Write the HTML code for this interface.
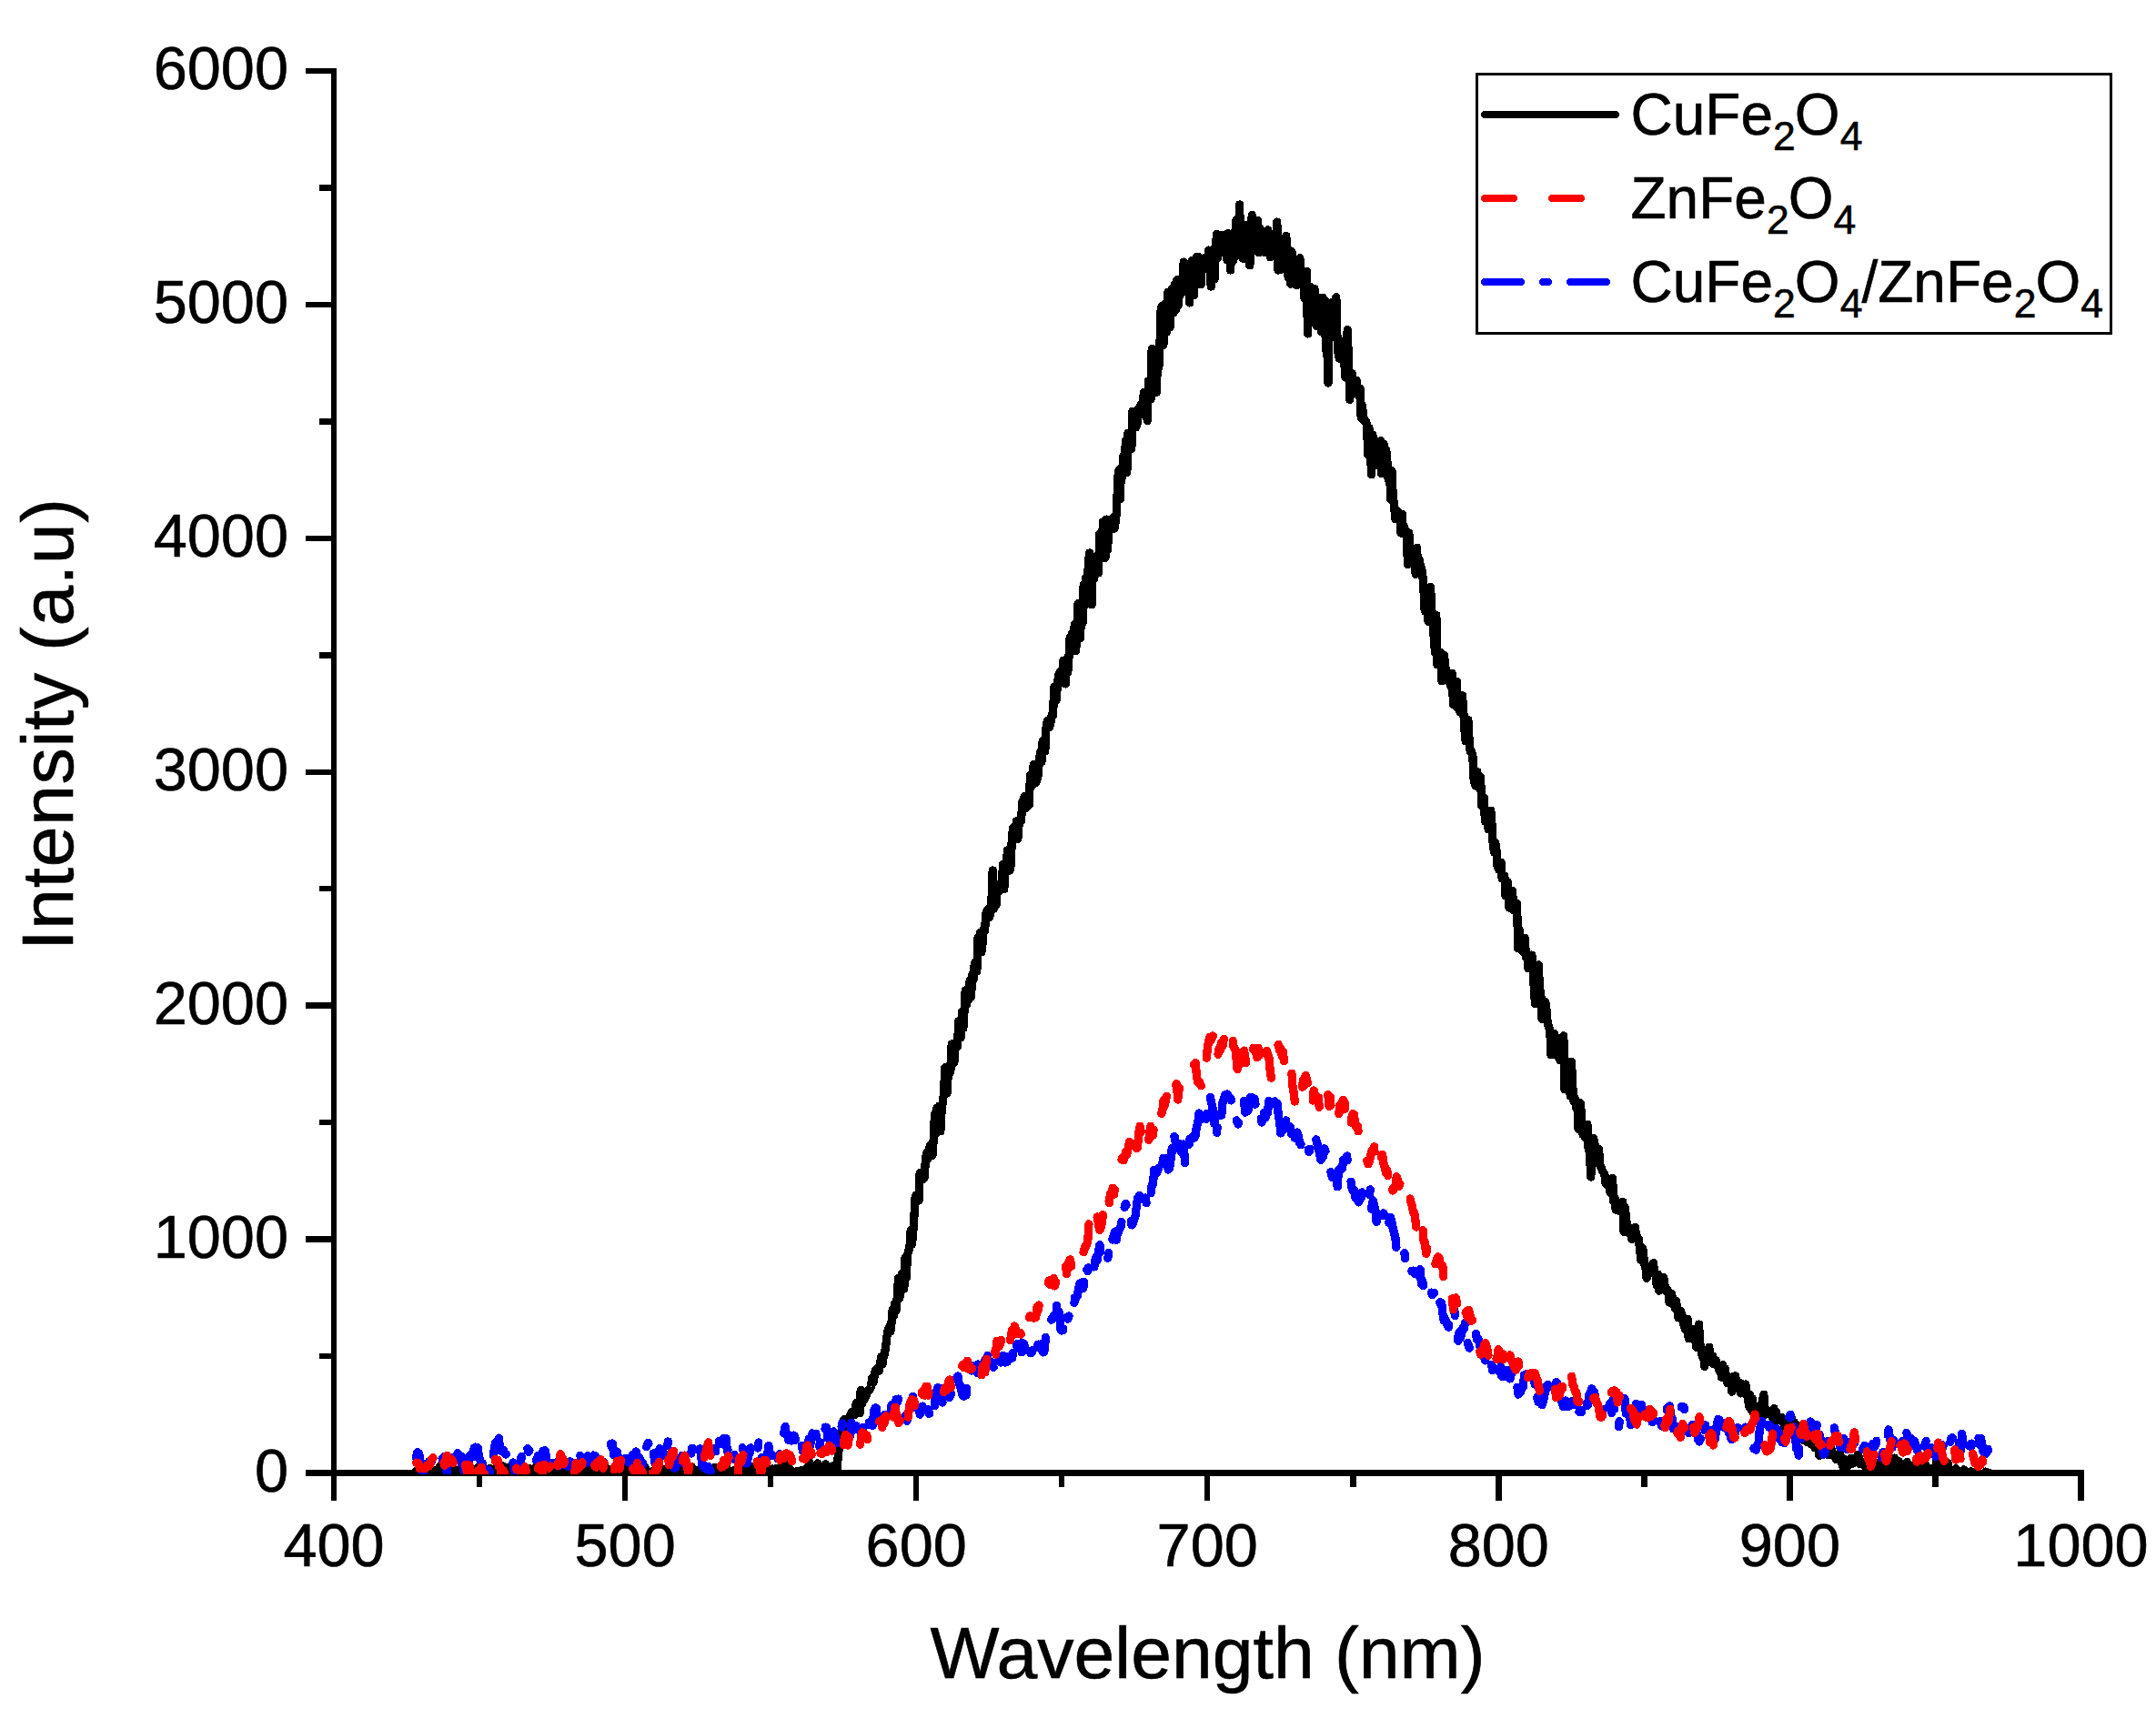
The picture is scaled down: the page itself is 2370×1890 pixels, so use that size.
<!DOCTYPE html>
<html lang="en">
<head>
<meta charset="utf-8">
<title>PL spectra: CuFe2O4, ZnFe2O4, CuFe2O4/ZnFe2O4</title>
<style>
html,body{margin:0;padding:0;background:#fff;}
body{width:2370px;height:1890px;overflow:hidden;}
svg{display:block;}
</style>
</head>
<body>
<svg width="2370" height="1890" viewBox="0 0 2370 1890">
<rect width="2370" height="1890" fill="#fff"/>
<g fill="#000" shape-rendering="crispEdges">
<rect x="364" y="75" width="6" height="1548"/>
<rect x="336" y="1616" width="1955" height="7"/>
<rect x="336" y="1616" width="31" height="7"/>
<rect x="351" y="1488" width="16" height="6"/>
<rect x="336" y="1359" width="31" height="7"/>
<rect x="351" y="1231" width="16" height="6"/>
<rect x="336" y="1102" width="31" height="7"/>
<rect x="351" y="974" width="16" height="6"/>
<rect x="336" y="846" width="31" height="6"/>
<rect x="351" y="717" width="16" height="7"/>
<rect x="336" y="589" width="31" height="6"/>
<rect x="351" y="460" width="16" height="7"/>
<rect x="336" y="332" width="31" height="6"/>
<rect x="351" y="203" width="16" height="7"/>
<rect x="336" y="75" width="31" height="6"/>
<rect x="364" y="1620" width="6" height="30"/>
<rect x="524" y="1620" width="6" height="15"/>
<rect x="684" y="1620" width="6" height="30"/>
<rect x="844" y="1620" width="6" height="15"/>
<rect x="1004" y="1620" width="6" height="30"/>
<rect x="1164" y="1620" width="6" height="15"/>
<rect x="1324" y="1620" width="6" height="30"/>
<rect x="1484" y="1620" width="7" height="15"/>
<rect x="1644" y="1620" width="7" height="30"/>
<rect x="1804" y="1620" width="7" height="15"/>
<rect x="1964" y="1620" width="7" height="30"/>
<rect x="2124" y="1620" width="7" height="15"/>
<rect x="2284" y="1620" width="7" height="30"/>
</g>
<clipPath id="pc"><rect x="367" y="60" width="1940" height="1561"/></clipPath>
<g clip-path="url(#pc)" fill="none" stroke-width="9.3" stroke-linecap="round" stroke-linejoin="round" shape-rendering="crispEdges">
<path stroke="#000" d="M457.5 1617.6L458.8 1622.2L460.0 1621.7L461.2 1615.7L462.5 1616.5L463.8 1615.7L465.0 1619.5L466.2 1617.3L467.5 1620.1L468.8 1611.1L470.0 1622.9L471.2 1617.2L472.5 1619.9L473.8 1617.0L475.0 1616.2L476.2 1619.1L477.5 1620.4L478.8 1616.8L480.0 1617.0L481.2 1619.9L482.5 1614.5L483.8 1612.3L485.0 1618.9L486.2 1615.2L487.5 1610.8L488.8 1614.7L490.0 1615.9L491.2 1613.4L492.5 1612.3L493.8 1617.6L495.0 1620.6L496.2 1616.7L497.5 1614.9L498.8 1618.8L500.0 1620.0L501.2 1616.5L502.5 1619.4L503.8 1621.1L505.0 1616.8L506.2 1614.7L507.5 1618.7L508.8 1618.4L510.0 1621.3L511.2 1613.0L512.5 1615.2L513.8 1614.6L515.0 1611.5L516.2 1617.9L517.5 1619.3L518.8 1614.9L520.0 1622.3L521.2 1620.3L522.5 1624.5L523.8 1618.9L525.0 1620.8L526.2 1612.9L527.5 1619.6L528.8 1619.6L530.0 1611.4L531.2 1618.7L532.5 1616.6L533.8 1620.2L535.0 1616.0L536.2 1617.4L537.5 1618.7L538.8 1614.5L540.0 1619.6L541.2 1617.1L542.5 1619.2L543.8 1615.7L545.0 1621.3L546.2 1619.6L547.5 1616.9L548.8 1619.7L550.0 1621.9L551.2 1623.7L552.5 1612.0L553.8 1620.6L555.0 1619.1L556.2 1617.2L557.5 1614.0L558.8 1621.9L560.0 1613.1L561.2 1619.5L562.5 1622.0L563.8 1612.0L565.0 1616.5L566.2 1613.0L567.5 1618.3L568.8 1622.7L570.0 1624.5L571.2 1611.3L572.5 1615.5L573.8 1619.9L575.0 1623.0L576.2 1619.0L577.5 1614.9L578.8 1618.5L580.0 1617.4L581.2 1616.8L582.5 1615.0L583.8 1618.8L585.0 1618.6L586.2 1617.2L587.5 1616.7L588.8 1613.0L590.0 1615.8L591.2 1621.7L592.5 1616.8L593.8 1612.5L595.0 1622.1L596.2 1619.3L597.5 1624.8L598.8 1617.7L600.0 1615.9L601.2 1612.5L602.5 1622.1L603.8 1626.4L605.0 1614.7L606.2 1615.3L607.5 1619.6L608.8 1614.6L610.0 1616.6L611.2 1616.3L612.5 1618.2L613.8 1621.3L615.0 1617.6L616.2 1620.7L617.5 1616.0L618.8 1618.6L620.0 1610.1L621.2 1612.5L622.5 1620.3L623.8 1615.5L625.0 1619.5L626.2 1619.4L627.5 1622.1L628.8 1620.3L630.0 1621.0L631.2 1617.1L632.5 1615.1L633.8 1615.0L635.0 1615.8L636.2 1613.6L637.5 1615.6L638.8 1617.2L640.0 1618.4L641.2 1616.3L642.5 1610.8L643.8 1617.2L645.0 1618.3L646.2 1621.3L647.5 1619.5L648.8 1615.3L650.0 1615.0L651.2 1624.5L652.5 1620.1L653.8 1623.8L655.0 1624.9L656.2 1614.7L657.5 1618.8L658.8 1619.1L660.0 1619.4L661.2 1619.4L662.5 1618.2L663.8 1618.1L665.0 1612.3L666.2 1616.9L667.5 1614.9L668.8 1617.9L670.0 1615.9L671.2 1619.6L672.5 1620.3L673.8 1618.6L675.0 1618.6L676.2 1617.8L677.5 1615.9L678.8 1616.9L680.0 1615.8L681.2 1618.8L682.5 1617.5L683.8 1619.5L685.0 1612.9L686.2 1620.6L687.5 1614.9L688.8 1615.0L690.0 1616.8L691.2 1615.5L692.5 1618.5L693.8 1615.5L695.0 1613.8L696.2 1614.6L697.5 1622.0L698.8 1617.7L700.0 1613.5L701.2 1612.0L702.5 1612.1L703.8 1623.7L705.0 1612.2L706.2 1619.2L707.5 1619.4L708.8 1612.5L710.0 1618.5L711.2 1621.0L712.5 1619.1L713.8 1618.4L715.0 1620.8L716.2 1618.1L717.5 1618.7L718.8 1617.1L720.0 1619.7L721.2 1614.2L722.5 1620.2L723.8 1615.7L725.0 1613.7L726.2 1618.8L727.5 1623.4L728.8 1620.8L730.0 1615.7L731.2 1619.9L732.5 1615.9L733.8 1617.1L735.0 1617.8L736.2 1609.5L737.5 1618.2L738.8 1613.9L740.0 1615.1L741.2 1612.4L742.5 1612.2L743.8 1614.2L745.0 1620.4L746.2 1623.3L747.5 1617.4L748.8 1621.3L750.0 1616.6L751.2 1610.9L752.5 1618.0L753.8 1619.0L755.0 1616.0L756.2 1618.5L757.5 1619.5L758.8 1614.5L760.0 1612.4L761.2 1616.7L762.5 1616.8L763.8 1616.3L765.0 1620.9L766.2 1623.5L767.5 1616.1L768.8 1619.9L770.0 1620.8L771.2 1620.0L772.5 1621.1L773.8 1616.2L775.0 1620.1L776.2 1624.5L777.5 1620.3L778.8 1615.4L780.0 1619.6L781.2 1621.9L782.5 1618.8L783.8 1615.5L785.0 1622.8L786.2 1613.2L787.5 1619.2L788.8 1617.4L790.0 1613.4L791.2 1621.7L792.5 1618.7L793.8 1613.5L795.0 1619.6L796.2 1616.0L797.5 1610.9L798.8 1615.1L800.0 1618.4L801.2 1619.7L802.5 1618.1L803.8 1617.7L805.0 1619.1L806.2 1616.8L807.5 1621.6L808.8 1618.0L810.0 1618.5L811.2 1619.4L812.5 1613.8L813.8 1615.0L815.0 1622.8L816.2 1618.7L817.5 1616.5L818.8 1618.7L820.0 1615.8L821.2 1618.5L822.5 1615.2L823.8 1618.5L825.0 1612.0L826.2 1622.1L827.5 1615.7L828.8 1612.0L830.0 1616.7L831.2 1616.2L832.5 1618.0L833.8 1613.5L835.0 1618.9L836.2 1630.1L837.5 1613.1L838.8 1618.7L840.0 1616.4L841.2 1618.2L842.5 1611.2L843.8 1613.5L845.0 1619.1L846.2 1617.4L847.5 1623.2L848.8 1615.1L850.0 1618.1L851.2 1627.6L852.5 1614.8L853.8 1614.4L855.0 1617.4L856.2 1617.3L857.5 1620.4L858.8 1617.9L860.0 1606.9L861.2 1618.2L862.5 1626.6L863.8 1621.9L865.0 1607.9L866.2 1617.0L867.5 1614.5L868.8 1619.7L870.0 1616.9L871.2 1624.2L872.5 1620.7L873.8 1620.6L875.0 1618.1L876.2 1617.4L877.5 1618.7L878.8 1622.0L880.0 1619.4L881.2 1616.3L882.5 1621.9L883.8 1618.2L885.0 1617.2L886.2 1614.8L887.5 1615.5L888.8 1615.3L890.0 1607.8L891.2 1621.0L892.5 1619.5L893.8 1616.8L895.0 1621.1L896.2 1619.0L897.5 1618.8L898.8 1608.9L900.0 1616.7L901.2 1619.3L902.5 1623.1L903.8 1623.9L905.0 1622.4L906.2 1613.4L907.5 1609.8L908.8 1619.4L910.0 1617.5L911.2 1620.7L912.5 1616.9L913.8 1618.1L915.0 1612.0L916.2 1618.7L917.5 1615.5L918.8 1618.2L920.0 1614.8L921.2 1601.7L922.5 1590.1L923.8 1576.3L925.0 1573.2L926.2 1568.4L927.5 1561.4L928.8 1560.3L930.0 1572.4L931.2 1561.5L932.5 1566.5L933.8 1561.9L935.0 1555.2L936.2 1552.6L937.5 1555.9L938.8 1555.0L940.0 1555.3L941.2 1542.7L942.5 1544.7L943.8 1545.8L945.0 1553.8L946.2 1528.6L947.5 1543.1L948.8 1535.2L950.0 1538.9L951.2 1531.1L952.5 1534.1L953.8 1529.3L955.0 1529.3L956.2 1527.4L957.5 1524.5L958.8 1514.8L960.0 1520.3L961.2 1512.8L962.5 1506.2L963.8 1508.5L965.0 1504.3L966.2 1507.6L967.5 1498.9L968.8 1491.6L970.0 1499.9L971.2 1491.5L972.5 1488.4L973.8 1478.9L975.0 1469.0L976.2 1462.1L977.5 1458.9L978.8 1464.0L980.0 1454.4L981.2 1439.5L982.5 1446.6L983.8 1432.8L985.0 1440.7L986.2 1426.5L987.5 1405.6L988.8 1427.3L990.0 1419.9L991.2 1400.5L992.5 1411.9L993.8 1417.0L995.0 1383.2L996.2 1404.9L997.5 1379.7L998.8 1375.2L1000.0 1370.8L1001.2 1352.8L1002.5 1368.0L1003.8 1354.0L1005.0 1336.0L1006.2 1315.5L1007.5 1313.7L1008.8 1316.1L1010.0 1319.9L1011.2 1289.3L1012.5 1294.1L1013.8 1293.4L1015.0 1296.4L1016.2 1294.5L1017.5 1273.8L1018.8 1267.1L1020.0 1274.2L1021.2 1262.9L1022.5 1259.6L1023.8 1268.6L1025.0 1270.3L1026.2 1252.7L1027.5 1224.9L1028.8 1246.3L1030.0 1218.2L1031.2 1231.0L1032.5 1216.0L1033.8 1243.9L1035.0 1222.6L1036.2 1211.7L1037.5 1202.7L1038.8 1173.9L1040.0 1199.1L1041.2 1201.8L1042.5 1172.2L1043.8 1180.4L1045.0 1175.6L1046.2 1148.0L1047.5 1168.5L1048.8 1168.4L1050.0 1152.9L1051.2 1145.9L1052.5 1150.5L1053.8 1122.6L1055.0 1135.1L1056.2 1140.6L1057.5 1112.2L1058.8 1130.6L1060.0 1111.2L1061.2 1088.9L1062.5 1104.6L1063.8 1090.4L1065.0 1098.8L1066.2 1077.8L1067.5 1096.0L1068.8 1071.3L1070.0 1077.0L1071.2 1060.7L1072.5 1057.6L1073.8 1068.0L1075.0 1030.7L1076.2 1039.5L1077.5 1025.1L1078.8 1046.9L1080.0 1037.7L1081.2 1021.6L1082.5 1023.6L1083.8 1005.4L1085.0 1001.5L1086.2 999.6L1087.5 1008.9L1088.8 1004.5L1090.0 989.1L1091.2 957.0L1092.5 999.0L1093.8 988.6L1095.0 995.1L1096.2 976.9L1097.5 975.8L1098.8 979.3L1100.0 970.5L1101.2 976.8L1102.5 950.2L1103.8 977.6L1105.0 948.9L1106.2 952.5L1107.5 934.7L1108.8 953.6L1110.0 957.1L1111.2 950.2L1112.5 917.9L1113.8 910.0L1115.0 914.1L1116.2 913.0L1117.5 902.8L1118.8 922.5L1120.0 907.2L1121.2 900.7L1122.5 902.9L1123.8 882.2L1125.0 879.1L1126.2 875.8L1127.5 888.8L1128.8 883.5L1130.0 882.9L1131.2 885.4L1132.5 852.5L1133.8 858.3L1135.0 863.0L1136.2 840.8L1137.5 846.4L1138.8 860.7L1140.0 857.2L1141.2 852.1L1142.5 834.5L1143.8 826.4L1145.0 837.3L1146.2 814.5L1147.5 818.4L1148.8 825.8L1150.0 800.2L1151.2 792.8L1152.5 795.9L1153.8 799.3L1155.0 793.7L1156.2 785.6L1157.5 786.6L1158.8 755.4L1160.0 760.6L1161.2 769.4L1162.5 751.3L1163.8 741.7L1165.0 738.9L1166.2 737.8L1167.5 742.2L1168.8 726.4L1170.0 737.6L1171.2 751.9L1172.5 724.2L1173.8 738.8L1175.0 722.5L1176.2 700.9L1177.5 708.7L1178.8 696.0L1180.0 715.3L1181.2 686.8L1182.5 715.3L1183.8 701.7L1185.0 663.6L1186.2 695.9L1187.5 701.4L1188.8 666.0L1190.0 684.6L1191.2 643.1L1192.5 665.3L1193.8 635.1L1195.0 658.7L1196.2 623.9L1197.5 608.0L1198.8 643.9L1200.0 664.7L1201.2 621.6L1202.5 636.2L1203.8 622.1L1205.0 611.9L1206.2 620.3L1207.5 630.0L1208.8 587.1L1210.0 607.6L1211.2 601.1L1212.5 573.8L1213.8 611.9L1215.0 613.5L1216.2 571.1L1217.5 604.8L1218.8 578.9L1220.0 572.8L1221.2 573.9L1222.5 571.4L1223.8 568.9L1225.0 581.1L1226.2 573.2L1227.5 562.5L1228.8 525.3L1230.0 517.2L1231.2 548.8L1232.5 514.7L1233.8 523.8L1235.0 500.5L1236.2 506.5L1237.5 484.8L1238.8 519.4L1240.0 476.2L1241.2 483.4L1242.5 477.7L1243.8 493.3L1245.0 452.2L1246.2 468.3L1247.5 462.5L1248.8 469.8L1250.0 466.0L1251.2 449.7L1252.5 456.8L1253.8 445.1L1255.0 454.2L1256.2 442.8L1257.5 431.6L1258.8 437.0L1260.0 438.9L1261.2 462.4L1262.5 418.8L1263.8 426.2L1265.0 438.8L1266.2 383.4L1267.5 383.8L1268.8 387.5L1270.0 398.6L1271.2 431.2L1272.5 396.9L1273.8 404.1L1275.0 378.1L1276.2 339.8L1277.5 336.2L1278.8 379.3L1280.0 361.4L1281.2 334.2L1282.5 364.9L1283.8 321.4L1285.0 357.5L1286.2 359.5L1287.5 324.1L1288.8 316.8L1290.0 343.6L1291.2 312.9L1292.5 340.2L1293.8 307.9L1295.0 336.0L1296.2 323.9L1297.5 314.5L1298.8 306.1L1300.0 321.4L1301.2 288.1L1302.5 310.5L1303.8 307.0L1305.0 321.3L1306.2 290.5L1307.5 333.0L1308.8 300.9L1310.0 286.6L1311.2 322.5L1312.5 324.8L1313.8 295.2L1315.0 282.8L1316.2 294.6L1317.5 282.3L1318.8 286.3L1320.0 312.8L1321.2 293.8L1322.5 288.7L1323.8 290.5L1325.0 283.2L1326.2 295.6L1327.5 295.0L1328.8 275.1L1330.0 281.2L1331.2 315.0L1332.5 283.9L1333.8 273.8L1335.0 306.6L1336.2 274.9L1337.5 257.3L1338.8 283.3L1340.0 258.7L1341.2 264.1L1342.5 275.9L1343.8 268.4L1345.0 258.2L1346.2 260.8L1347.5 259.5L1348.8 285.6L1350.0 256.4L1351.2 258.1L1352.5 297.0L1353.8 257.3L1355.0 287.7L1356.2 284.6L1357.5 261.9L1358.8 242.4L1360.0 270.4L1361.2 273.5L1362.5 225.0L1363.8 264.1L1365.0 281.3L1366.2 284.1L1367.5 247.1L1368.8 284.8L1370.0 265.8L1371.2 254.7L1372.5 258.5L1373.8 291.9L1375.0 278.5L1376.2 236.6L1377.5 265.2L1378.8 261.9L1380.0 261.6L1381.2 256.6L1382.5 242.5L1383.8 277.8L1385.0 250.8L1386.2 259.6L1387.5 256.3L1388.8 254.7L1390.0 277.3L1391.2 272.2L1392.5 256.6L1393.8 252.9L1395.0 260.6L1396.2 282.8L1397.5 270.6L1398.8 272.8L1400.0 264.9L1401.2 266.6L1402.5 274.5L1403.8 244.1L1405.0 297.0L1406.2 261.6L1407.5 266.0L1408.8 296.1L1410.0 280.8L1411.2 279.7L1412.5 272.2L1413.8 259.4L1415.0 287.8L1416.2 305.2L1417.5 275.8L1418.8 312.1L1420.0 276.9L1421.2 285.0L1422.5 305.8L1423.8 300.6L1425.0 313.6L1426.2 294.9L1427.5 293.4L1428.8 283.8L1430.0 296.7L1431.2 301.5L1432.5 299.1L1433.8 327.6L1435.0 315.7L1436.2 298.4L1437.5 367.0L1438.8 319.5L1440.0 315.0L1441.2 353.6L1442.5 353.9L1443.8 320.9L1445.0 317.4L1446.2 325.7L1447.5 358.4L1448.8 338.3L1450.0 332.1L1451.2 344.9L1452.5 364.4L1453.8 327.4L1455.0 343.7L1456.2 330.5L1457.5 384.6L1458.8 381.2L1460.0 421.0L1461.2 356.7L1462.5 370.8L1463.8 332.8L1465.0 370.5L1466.2 349.7L1467.5 352.8L1468.8 326.8L1470.0 373.0L1471.2 389.5L1472.5 394.3L1473.8 390.7L1475.0 375.9L1476.2 376.1L1477.5 393.2L1478.8 414.8L1480.0 386.9L1481.2 362.8L1482.5 398.6L1483.8 439.3L1485.0 417.6L1486.2 410.8L1487.5 429.3L1488.8 426.7L1490.0 429.1L1491.2 418.3L1492.5 430.1L1493.8 435.5L1495.0 427.1L1496.2 459.0L1497.5 446.1L1498.8 461.9L1500.0 461.2L1501.2 462.9L1502.5 466.8L1503.8 500.0L1505.0 470.6L1506.2 485.2L1507.5 521.8L1508.8 478.1L1510.0 484.5L1511.2 498.9L1512.5 511.4L1513.8 495.5L1515.0 499.7L1516.2 499.4L1517.5 484.7L1518.8 520.8L1520.0 505.1L1521.2 488.2L1522.5 513.8L1523.8 495.3L1525.0 509.0L1526.2 527.0L1527.5 517.7L1528.8 549.1L1530.0 517.9L1531.2 545.9L1532.5 554.0L1533.8 570.6L1535.0 567.2L1536.2 561.8L1537.5 563.7L1538.8 565.8L1540.0 586.0L1541.2 565.2L1542.5 584.9L1543.8 580.0L1545.0 588.0L1546.2 584.6L1547.5 620.6L1548.8 586.2L1550.0 602.0L1551.2 605.9L1552.5 614.1L1553.8 615.8L1555.0 619.5L1556.2 631.2L1557.5 602.2L1558.8 627.1L1560.0 615.0L1561.2 621.0L1562.5 624.8L1563.8 632.2L1565.0 648.4L1566.2 671.8L1567.5 664.9L1568.8 665.1L1570.0 683.5L1571.2 656.4L1572.5 645.3L1573.8 671.2L1575.0 677.2L1576.2 701.1L1577.5 717.3L1578.8 676.5L1580.0 730.7L1581.2 723.5L1582.5 718.9L1583.8 717.5L1585.0 748.8L1586.2 723.2L1587.5 720.6L1588.8 732.8L1590.0 747.3L1591.2 745.1L1592.5 741.5L1593.8 750.9L1595.0 754.9L1596.2 740.6L1597.5 774.4L1598.8 748.6L1600.0 776.5L1601.2 749.2L1602.5 778.1L1603.8 767.5L1605.0 782.9L1606.2 779.0L1607.5 764.8L1608.8 783.1L1610.0 802.9L1611.2 814.9L1612.5 794.1L1613.8 791.3L1615.0 812.3L1616.2 826.0L1617.5 826.4L1618.8 829.8L1620.0 855.5L1621.2 862.1L1622.5 864.2L1623.8 848.4L1625.0 864.9L1626.2 865.7L1627.5 854.7L1628.8 886.1L1630.0 880.2L1631.2 876.9L1632.5 903.2L1633.8 899.0L1635.0 903.9L1636.2 911.9L1637.5 910.3L1638.8 891.3L1640.0 906.4L1641.2 927.7L1642.5 937.1L1643.8 926.4L1645.0 935.7L1646.2 952.9L1647.5 956.1L1648.8 956.2L1650.0 948.4L1651.2 965.9L1652.5 966.1L1653.8 962.9L1655.0 984.9L1656.2 979.7L1657.5 970.1L1658.8 997.6L1660.0 984.9L1661.2 999.0L1662.5 979.6L1663.8 1001.0L1665.0 995.1L1666.2 999.2L1667.5 993.3L1668.8 1042.7L1670.0 1021.7L1671.2 1030.5L1672.5 1044.7L1673.8 1035.8L1675.0 1047.4L1676.2 1031.5L1677.5 1052.9L1678.8 1050.6L1680.0 1064.6L1681.2 1064.9L1682.5 1051.7L1683.8 1050.1L1685.0 1062.4L1686.2 1084.4L1687.5 1103.8L1688.8 1087.1L1690.0 1064.6L1691.2 1060.9L1692.5 1086.2L1693.8 1093.0L1695.0 1120.5L1696.2 1108.3L1697.5 1107.4L1698.8 1101.7L1700.0 1109.8L1701.2 1125.2L1702.5 1129.1L1703.8 1132.0L1705.0 1159.9L1706.2 1137.5L1707.5 1144.8L1708.8 1136.7L1710.0 1146.3L1711.2 1158.3L1712.5 1161.7L1713.8 1157.3L1715.0 1165.9L1716.2 1165.6L1717.5 1149.5L1718.8 1138.9L1720.0 1197.9L1721.2 1186.4L1722.5 1180.9L1723.8 1167.7L1725.0 1175.6L1726.2 1205.0L1727.5 1167.8L1728.8 1195.5L1730.0 1210.8L1731.2 1207.6L1732.5 1217.5L1733.8 1212.9L1735.0 1241.3L1736.2 1212.5L1737.5 1213.4L1738.8 1232.9L1740.0 1247.6L1741.2 1237.1L1742.5 1250.8L1743.8 1239.2L1745.0 1236.2L1746.2 1263.4L1747.5 1267.9L1748.8 1294.0L1750.0 1255.0L1751.2 1251.2L1752.5 1254.0L1753.8 1265.6L1755.0 1275.9L1756.2 1278.1L1757.5 1263.4L1758.8 1281.4L1760.0 1282.9L1761.2 1286.8L1762.5 1289.0L1763.8 1290.7L1765.0 1301.0L1766.2 1300.0L1767.5 1304.0L1768.8 1298.9L1770.0 1311.5L1771.2 1309.8L1772.5 1295.2L1773.8 1320.8L1775.0 1317.0L1776.2 1330.1L1777.5 1323.3L1778.8 1326.5L1780.0 1331.6L1781.2 1332.1L1782.5 1330.7L1783.8 1321.4L1785.0 1354.5L1786.2 1327.3L1787.5 1339.7L1788.8 1349.9L1790.0 1349.4L1791.2 1352.8L1792.5 1356.3L1793.8 1362.4L1795.0 1356.2L1796.2 1358.9L1797.5 1349.6L1798.8 1362.4L1800.0 1360.3L1801.2 1362.0L1802.5 1372.3L1803.8 1385.5L1805.0 1371.4L1806.2 1375.0L1807.5 1390.0L1808.8 1391.5L1810.0 1405.4L1811.2 1400.1L1812.5 1395.5L1813.8 1392.7L1815.0 1398.6L1816.2 1396.8L1817.5 1388.7L1818.8 1400.8L1820.0 1400.6L1821.2 1413.0L1822.5 1401.1L1823.8 1419.1L1825.0 1412.8L1826.2 1416.2L1827.5 1406.0L1828.8 1404.8L1830.0 1412.8L1831.2 1419.2L1832.5 1417.1L1833.8 1420.8L1835.0 1432.1L1836.2 1429.7L1837.5 1422.5L1838.8 1429.2L1840.0 1429.9L1841.2 1438.4L1842.5 1430.6L1843.8 1440.1L1845.0 1448.7L1846.2 1445.9L1847.5 1441.1L1848.8 1445.3L1850.0 1452.8L1851.2 1457.4L1852.5 1461.9L1853.8 1456.8L1855.0 1450.3L1856.2 1471.8L1857.5 1465.6L1858.8 1468.2L1860.0 1469.4L1861.2 1461.7L1862.5 1468.5L1863.8 1474.4L1865.0 1481.5L1866.2 1476.4L1867.5 1456.0L1868.8 1477.6L1870.0 1483.3L1871.2 1491.4L1872.5 1488.9L1873.8 1502.4L1875.0 1496.5L1876.2 1497.2L1877.5 1495.7L1878.8 1481.2L1880.0 1497.4L1881.2 1497.0L1882.5 1490.8L1883.8 1499.6L1885.0 1499.9L1886.2 1495.7L1887.5 1499.9L1888.8 1501.4L1890.0 1507.2L1891.2 1505.6L1892.5 1514.3L1893.8 1500.5L1895.0 1512.5L1896.2 1504.7L1897.5 1513.4L1898.8 1520.6L1900.0 1518.3L1901.2 1518.2L1902.5 1520.0L1903.8 1530.1L1905.0 1513.9L1906.2 1527.1L1907.5 1512.8L1908.8 1520.1L1910.0 1524.9L1911.2 1519.6L1912.5 1527.3L1913.8 1531.9L1915.0 1521.6L1916.2 1530.1L1917.5 1529.9L1918.8 1522.1L1920.0 1534.3L1921.2 1532.0L1922.5 1546.0L1923.8 1533.8L1925.0 1550.1L1926.2 1537.7L1927.5 1553.2L1928.8 1545.7L1930.0 1545.9L1931.2 1548.7L1932.5 1550.0L1933.8 1553.6L1935.0 1556.3L1936.2 1545.0L1937.5 1540.6L1938.8 1533.2L1940.0 1547.4L1941.2 1555.0L1942.5 1553.8L1943.8 1553.4L1945.0 1551.9L1946.2 1551.4L1947.5 1554.5L1948.8 1559.4L1950.0 1548.5L1951.2 1563.5L1952.5 1552.4L1953.8 1560.6L1955.0 1558.9L1956.2 1561.2L1957.5 1558.3L1958.8 1558.4L1960.0 1564.2L1961.2 1560.2L1962.5 1580.0L1963.8 1565.1L1965.0 1564.4L1966.2 1565.6L1967.5 1563.4L1968.8 1556.7L1970.0 1569.1L1971.2 1572.8L1972.5 1564.0L1973.8 1572.7L1975.0 1567.2L1976.2 1574.2L1977.5 1577.2L1978.8 1578.7L1980.0 1579.4L1981.2 1574.5L1982.5 1583.5L1983.8 1577.7L1985.0 1582.7L1986.2 1585.4L1987.5 1581.2L1988.8 1577.2L1990.0 1587.5L1991.2 1579.7L1992.5 1581.6L1993.8 1581.4L1995.0 1591.7L1996.2 1587.6L1997.5 1578.3L1998.8 1593.4L2000.0 1600.5L2001.2 1599.9L2002.5 1589.3L2003.8 1593.1L2005.0 1595.8L2006.2 1598.3L2007.5 1594.9L2008.8 1590.4L2010.0 1599.7L2011.2 1599.7L2012.5 1591.6L2013.8 1596.7L2015.0 1600.2L2016.2 1599.7L2017.5 1602.7L2018.8 1604.6L2020.0 1604.1L2021.2 1601.8L2022.5 1597.0L2023.8 1606.1L2025.0 1609.9L2026.2 1612.8L2027.5 1604.6L2028.8 1604.9L2030.0 1611.5L2031.2 1611.8L2032.5 1607.4L2033.8 1609.3L2035.0 1603.3L2036.2 1609.2L2037.5 1603.6L2038.8 1606.7L2040.0 1607.0L2041.2 1605.8L2042.5 1599.2L2043.8 1604.7L2045.0 1609.7L2046.2 1608.3L2047.5 1607.1L2048.8 1610.6L2050.0 1611.9L2051.2 1612.7L2052.5 1606.2L2053.8 1609.7L2055.0 1608.4L2056.2 1606.4L2057.5 1604.1L2058.8 1609.9L2060.0 1607.0L2061.2 1619.2L2062.5 1610.5L2063.8 1610.1L2065.0 1609.6L2066.2 1618.7L2067.5 1607.8L2068.8 1611.0L2070.0 1608.8L2071.2 1611.5L2072.5 1612.0L2073.8 1616.5L2075.0 1606.9L2076.2 1612.5L2077.5 1618.9L2078.8 1610.9L2080.0 1612.3L2081.2 1609.7L2082.5 1603.1L2083.8 1612.9L2085.0 1617.9L2086.2 1611.7L2087.5 1606.6L2088.8 1614.7L2090.0 1614.1L2091.2 1617.6L2092.5 1617.4L2093.8 1613.0L2095.0 1615.6L2096.2 1607.4L2097.5 1618.4L2098.8 1615.0L2100.0 1618.5L2101.2 1618.5L2102.5 1613.5L2103.8 1614.1L2105.0 1611.5L2106.2 1607.2L2107.5 1614.4L2108.8 1615.6L2110.0 1611.1L2111.2 1617.8L2112.5 1615.7L2113.8 1617.0L2115.0 1612.7L2116.2 1609.2L2117.5 1618.5L2118.8 1618.0L2120.0 1615.5L2121.2 1614.5L2122.5 1615.2L2123.8 1615.9L2125.0 1614.7L2126.2 1617.9L2127.5 1619.6L2128.8 1604.9L2130.0 1616.0L2131.2 1616.3L2132.5 1618.5L2133.8 1612.2L2135.0 1622.0L2136.2 1620.3L2137.5 1620.9L2138.8 1622.7L2140.0 1616.1L2141.2 1608.7L2142.5 1620.1L2143.8 1623.4L2145.0 1623.0L2146.2 1617.9L2147.5 1619.4L2148.8 1620.7L2150.0 1614.6L2151.2 1618.1L2152.5 1618.3L2153.8 1625.1L2155.0 1618.5L2156.2 1625.3L2157.5 1620.8L2158.8 1615.8L2160.0 1627.6L2161.2 1618.2L2162.5 1623.1L2163.8 1626.5L2165.0 1619.9L2166.2 1617.9L2167.5 1624.8L2168.8 1622.0L2170.0 1618.2L2171.2 1618.8L2172.5 1621.0L2173.8 1625.1L2175.0 1621.5L2176.2 1624.4L2177.5 1627.5L2178.8 1626.5L2180.0 1627.1L2181.2 1626.5L2182.5 1618.1L2183.8 1626.7L2185.0 1624.1L2186.2 1622.8L2187.5 1620.0"/>
<path stroke="#00f" stroke-dasharray="40 24 6 24" d="M457.5 1602.7L458.8 1596.7L460.1 1597.6L461.4 1601.0L462.7 1612.4L464.0 1612.2L465.3 1624.3L466.6 1615.7L467.9 1608.8L469.2 1613.7L470.5 1609.8L471.8 1606.5L473.1 1607.6L474.4 1606.5L475.7 1603.0L477.0 1601.8L478.3 1599.5L479.6 1601.9L480.9 1597.7L482.2 1597.0L483.5 1596.3L484.8 1598.6L486.1 1603.2L487.4 1607.7L488.7 1601.3L490.0 1613.7L491.3 1618.8L492.6 1600.7L493.9 1607.7L495.2 1611.1L496.5 1602.4L497.8 1610.9L499.1 1614.1L500.4 1617.3L501.7 1609.6L503.0 1597.8L504.3 1606.1L505.6 1605.1L506.9 1601.0L508.2 1601.8L509.5 1616.3L510.8 1615.6L512.1 1606.9L513.4 1613.0L514.7 1613.7L516.0 1604.3L517.3 1596.4L518.6 1609.3L519.9 1601.6L521.2 1592.2L522.5 1591.1L523.8 1593.8L525.1 1591.6L526.4 1601.7L527.7 1604.7L529.0 1609.3L530.3 1608.8L531.6 1615.0L532.9 1607.8L534.2 1605.9L535.5 1611.3L536.8 1612.0L538.1 1620.3L539.4 1613.5L540.7 1616.5L542.0 1607.5L543.3 1592.6L544.6 1585.9L545.9 1588.6L547.2 1585.2L548.5 1581.1L549.8 1599.6L551.1 1601.3L552.4 1589.2L553.7 1595.7L555.0 1598.1L556.3 1598.9L557.6 1597.6L558.9 1596.7L560.2 1601.0L561.5 1602.2L562.8 1598.0L564.1 1608.7L565.4 1615.9L566.7 1618.7L568.0 1614.6L569.3 1619.1L570.6 1617.0L571.9 1607.5L573.2 1601.4L574.5 1605.6L575.8 1597.3L577.1 1589.2L578.4 1590.2L579.7 1591.7L581.0 1596.4L582.3 1593.7L583.6 1597.1L584.9 1601.9L586.2 1600.4L587.5 1596.9L588.8 1603.5L590.1 1606.4L591.4 1600.4L592.7 1606.3L594.0 1606.0L595.3 1602.9L596.6 1595.6L597.9 1595.0L599.2 1594.8L600.5 1601.6L601.8 1609.7L603.1 1616.9L604.4 1620.9L605.7 1610.2L607.0 1610.9L608.3 1608.3L609.6 1611.1L610.9 1606.9L612.2 1611.0L613.5 1617.5L614.8 1604.6L616.1 1602.1L617.4 1604.8L618.7 1609.7L620.0 1609.9L621.3 1610.3L622.6 1611.2L623.9 1612.2L625.2 1611.1L626.5 1607.0L627.8 1607.3L629.1 1612.4L630.4 1610.6L631.7 1612.2L633.0 1607.1L634.3 1601.1L635.6 1603.1L636.9 1597.3L638.2 1601.7L639.5 1610.6L640.8 1606.7L642.1 1608.0L643.4 1614.6L644.7 1613.7L646.0 1600.8L647.3 1607.8L648.6 1605.5L649.9 1602.6L651.2 1607.5L652.5 1600.0L653.8 1603.7L655.1 1597.4L656.4 1602.6L657.7 1600.3L659.0 1608.6L660.3 1608.9L661.6 1609.0L662.9 1611.6L664.2 1601.4L665.5 1599.7L666.8 1596.8L668.1 1591.5L669.4 1589.3L670.7 1586.1L672.0 1589.6L673.3 1587.0L674.6 1599.5L675.9 1594.9L677.2 1598.4L678.5 1596.6L679.8 1607.9L681.1 1610.5L682.4 1611.7L683.7 1608.3L685.0 1609.5L686.3 1604.8L687.6 1599.5L688.9 1606.2L690.2 1606.8L691.5 1608.9L692.8 1595.6L694.1 1604.1L695.4 1599.3L696.7 1602.9L698.0 1599.6L699.3 1596.0L700.6 1601.7L701.9 1602.2L703.2 1603.1L704.5 1612.9L705.8 1613.1L707.1 1601.2L708.4 1604.1L709.7 1593.2L711.0 1589.9L712.3 1586.2L713.6 1588.4L714.9 1584.2L716.2 1594.2L717.5 1592.1L718.8 1600.1L720.1 1608.9L721.4 1600.7L722.7 1601.4L724.0 1594.9L725.3 1592.6L726.6 1593.7L727.9 1594.2L729.2 1596.5L730.5 1606.9L731.8 1601.2L733.1 1593.6L734.4 1585.0L735.7 1588.9L737.0 1591.7L738.3 1597.6L739.6 1604.2L740.9 1614.0L742.2 1614.0L743.5 1609.9L744.8 1607.3L746.1 1603.3L747.4 1604.9L748.7 1606.3L750.0 1600.2L751.3 1603.6L752.6 1605.0L753.9 1611.2L755.2 1604.3L756.5 1609.5L757.8 1603.2L759.1 1602.0L760.4 1594.6L761.7 1585.9L763.0 1589.1L764.3 1588.3L765.6 1585.4L766.9 1589.5L768.2 1594.5L769.5 1592.9L770.8 1602.0L772.1 1612.0L773.4 1610.0L774.7 1614.2L776.0 1615.3L777.3 1614.7L778.6 1612.4L779.9 1615.3L781.2 1617.7L782.5 1617.2L783.8 1607.1L785.1 1602.6L786.4 1592.3L787.7 1602.6L789.0 1597.3L790.3 1584.7L791.6 1587.4L792.9 1584.7L794.2 1582.7L795.5 1581.4L796.8 1587.9L798.1 1581.7L799.4 1595.7L800.7 1592.6L802.0 1596.6L803.3 1596.2L804.6 1604.5L805.9 1606.2L807.2 1599.6L808.5 1606.7L809.8 1607.8L811.1 1599.2L812.4 1592.6L813.7 1592.2L815.0 1590.5L816.3 1591.9L817.6 1596.8L818.9 1605.1L820.2 1608.9L821.5 1608.6L822.8 1596.2L824.1 1597.7L825.4 1592.0L826.7 1594.7L828.0 1598.2L829.3 1595.8L830.6 1593.1L831.9 1598.6L833.2 1589.9L834.5 1582.3L835.8 1591.0L837.1 1601.5L838.4 1604.1L839.7 1604.5L841.0 1607.4L842.3 1605.8L843.6 1600.5L844.9 1589.5L846.2 1600.1L847.5 1599.9L848.8 1599.4L850.1 1604.8L851.4 1609.4L852.7 1599.4L854.0 1601.5L855.3 1604.0L856.6 1599.3L857.9 1598.2L859.2 1590.2L860.5 1576.7L861.8 1575.7L863.1 1568.4L864.4 1576.0L865.7 1579.1L867.0 1583.5L868.3 1582.6L869.6 1584.0L870.9 1583.9L872.2 1578.1L873.5 1578.9L874.8 1584.6L876.1 1588.1L877.4 1585.9L878.7 1591.5L880.0 1594.7L881.3 1588.5L882.6 1596.8L883.9 1592.8L885.2 1589.8L886.5 1596.9L887.8 1597.2L889.1 1582.1L890.4 1589.8L891.7 1583.8L893.0 1575.9L894.3 1578.3L895.6 1578.2L896.9 1576.3L898.2 1589.3L899.5 1582.5L900.8 1590.5L902.1 1582.6L903.4 1586.7L904.7 1580.2L906.0 1577.4L907.3 1569.1L908.6 1569.5L909.9 1581.5L911.2 1580.5L912.5 1580.9L913.8 1579.9L915.1 1579.0L916.4 1574.0L917.7 1576.0L919.0 1584.5L920.3 1587.4L921.6 1583.8L922.9 1586.0L924.2 1579.9L925.5 1564.9L926.8 1566.4L928.1 1568.2L929.4 1573.3L930.7 1572.4L932.0 1578.6L933.3 1573.1L934.6 1578.0L935.9 1564.3L937.2 1572.7L938.5 1567.2L939.8 1570.9L941.1 1567.5L942.4 1573.7L943.7 1570.5L945.0 1580.8L946.3 1573.8L947.6 1571.0L948.9 1569.3L950.2 1570.3L951.5 1562.6L952.8 1564.7L954.1 1571.2L955.4 1564.0L956.7 1563.8L958.0 1566.6L959.3 1567.4L960.6 1551.6L961.9 1548.1L963.2 1548.1L964.5 1559.8L965.8 1559.9L967.1 1569.3L968.4 1571.0L969.7 1568.3L971.0 1557.8L972.3 1555.5L973.6 1557.8L974.9 1554.8L976.2 1557.0L977.5 1563.5L978.8 1564.1L980.1 1544.6L981.4 1550.3L982.7 1551.5L984.0 1544.0L985.3 1538.2L986.6 1541.3L987.9 1537.5L989.2 1539.8L990.5 1546.7L991.8 1545.5L993.1 1551.8L994.4 1553.1L995.7 1559.3L997.0 1562.4L998.3 1559.1L999.6 1552.6L1000.9 1554.4L1002.2 1542.9L1003.5 1535.4L1004.8 1542.3L1006.1 1544.5L1007.4 1548.4L1008.7 1548.7L1010.0 1550.4L1011.3 1555.1L1012.6 1546.7L1013.9 1546.2L1015.2 1548.8L1016.5 1550.0L1017.8 1542.3L1019.1 1552.7L1020.4 1550.0L1021.7 1555.1L1023.0 1561.1L1024.3 1554.4L1025.6 1554.1L1026.9 1552.5L1028.2 1537.9L1029.5 1530.5L1030.8 1525.6L1032.1 1526.7L1033.4 1526.2L1034.7 1530.1L1036.0 1542.1L1037.3 1531.4L1038.6 1529.9L1039.9 1538.2L1041.2 1536.0L1042.5 1536.1L1043.8 1536.3L1045.1 1533.8L1046.4 1531.6L1047.7 1521.0L1049.0 1517.6L1050.3 1519.8L1051.6 1514.6L1052.9 1513.0L1054.2 1521.1L1055.5 1523.3L1056.8 1528.7L1058.1 1533.7L1059.4 1535.3L1060.7 1531.1L1062.0 1533.8L1063.3 1522.1L1064.6 1517.2L1065.9 1519.1L1067.2 1508.7L1068.5 1505.0L1069.8 1496.1L1071.1 1497.2L1072.4 1503.0L1073.7 1511.7L1075.0 1500.0L1076.3 1501.9L1077.6 1506.8L1078.9 1506.8L1080.2 1503.6L1081.5 1505.1L1082.8 1495.3L1084.1 1495.3L1085.4 1493.1L1086.7 1484.7L1088.0 1488.9L1089.3 1500.3L1090.6 1497.9L1091.9 1502.2L1093.2 1511.3L1094.5 1508.3L1095.8 1507.8L1097.1 1504.2L1098.4 1492.5L1099.7 1498.0L1101.0 1495.9L1102.3 1490.2L1103.6 1496.4L1104.9 1498.1L1106.2 1491.2L1107.5 1500.0L1108.8 1498.0L1110.1 1486.4L1111.4 1491.7L1112.7 1493.2L1114.0 1479.7L1115.3 1475.9L1116.6 1483.8L1117.9 1477.5L1119.2 1478.4L1120.5 1481.2L1121.8 1477.1L1123.1 1486.8L1124.4 1476.8L1125.7 1477.1L1127.0 1485.0L1128.3 1488.8L1129.6 1483.6L1130.9 1483.9L1132.2 1492.2L1133.5 1485.1L1134.8 1486.3L1136.1 1480.1L1137.4 1479.8L1138.7 1472.0L1140.0 1480.2L1141.3 1478.1L1142.6 1478.5L1143.9 1483.3L1145.2 1477.4L1146.5 1486.9L1147.8 1486.4L1149.1 1474.2L1150.4 1459.0L1151.7 1456.9L1153.0 1453.4L1154.3 1449.7L1155.6 1451.3L1156.9 1449.2L1158.2 1448.9L1159.5 1439.0L1160.8 1429.0L1162.1 1445.4L1163.4 1441.3L1164.7 1443.8L1166.0 1462.0L1167.3 1463.0L1168.6 1462.4L1169.9 1451.5L1171.2 1451.7L1172.5 1443.3L1173.8 1450.3L1175.1 1446.4L1176.4 1448.3L1177.7 1448.0L1179.0 1437.3L1180.3 1439.2L1181.6 1426.8L1182.9 1426.6L1184.2 1424.9L1185.5 1417.8L1186.8 1411.3L1188.1 1410.9L1189.4 1410.0L1190.7 1416.7L1192.0 1406.9L1193.3 1411.7L1194.6 1395.7L1195.9 1397.6L1197.2 1389.3L1198.5 1389.1L1199.8 1385.6L1201.1 1395.3L1202.4 1396.1L1203.7 1386.4L1205.0 1382.3L1206.3 1385.8L1207.6 1374.9L1208.9 1368.6L1210.2 1379.0L1211.5 1380.1L1212.8 1376.9L1214.1 1379.3L1215.4 1387.6L1216.7 1386.7L1218.0 1382.3L1219.3 1374.8L1220.6 1369.9L1221.9 1374.5L1223.2 1361.1L1224.5 1357.6L1225.8 1354.0L1227.1 1363.3L1228.4 1355.5L1229.7 1354.0L1231.0 1350.2L1232.3 1348.4L1233.6 1337.4L1234.9 1341.3L1236.2 1326.9L1237.5 1323.3L1238.8 1327.6L1240.1 1336.2L1241.4 1333.5L1242.7 1339.4L1244.0 1346.9L1245.3 1345.1L1246.6 1340.9L1247.9 1337.9L1249.2 1327.5L1250.5 1317.5L1251.8 1318.2L1253.1 1312.0L1254.4 1316.7L1255.7 1316.0L1257.0 1319.8L1258.3 1312.9L1259.6 1320.9L1260.9 1325.2L1262.2 1329.0L1263.5 1324.1L1264.8 1316.0L1266.1 1303.2L1267.4 1302.2L1268.7 1286.2L1270.0 1291.5L1271.3 1289.5L1272.6 1287.5L1273.9 1283.7L1275.2 1284.2L1276.5 1271.3L1277.8 1279.7L1279.1 1271.6L1280.4 1281.3L1281.7 1271.4L1283.0 1281.0L1284.3 1286.0L1285.6 1284.2L1286.9 1275.5L1288.2 1262.4L1289.5 1268.3L1290.8 1248.2L1292.1 1256.1L1293.4 1263.4L1294.7 1267.1L1296.0 1256.3L1297.3 1264.2L1298.6 1266.7L1299.9 1258.8L1301.2 1258.0L1302.5 1278.7L1303.8 1270.6L1305.1 1262.9L1306.4 1264.3L1307.7 1254.6L1309.0 1241.3L1310.3 1252.7L1311.6 1249.2L1312.9 1251.0L1314.2 1248.2L1315.5 1238.1L1316.8 1234.9L1318.1 1223.9L1319.4 1225.4L1320.7 1237.3L1322.0 1241.7L1323.3 1239.0L1324.6 1231.0L1325.9 1231.1L1327.2 1219.1L1328.5 1206.4L1329.8 1203.6L1331.1 1210.0L1332.4 1215.9L1333.7 1221.6L1335.0 1235.6L1336.3 1224.5L1337.6 1246.5L1338.9 1226.2L1340.2 1231.6L1341.5 1226.6L1342.8 1225.9L1344.1 1211.6L1345.4 1208.4L1346.7 1203.6L1348.0 1206.7L1349.3 1203.0L1350.6 1205.9L1351.9 1206.4L1353.2 1208.4L1354.5 1219.1L1355.8 1218.9L1357.1 1225.1L1358.4 1228.3L1359.7 1233.3L1361.0 1236.0L1362.3 1231.5L1363.6 1229.9L1364.9 1224.2L1366.2 1217.1L1367.5 1210.5L1368.8 1223.1L1370.1 1221.2L1371.4 1221.4L1372.7 1219.9L1374.0 1206.8L1375.3 1209.8L1376.6 1209.8L1377.9 1195.6L1379.2 1210.1L1380.5 1217.4L1381.8 1218.9L1383.1 1216.5L1384.4 1225.9L1385.7 1224.9L1387.0 1234.0L1388.3 1231.1L1389.6 1223.4L1390.9 1228.9L1392.2 1225.5L1393.5 1223.2L1394.8 1210.1L1396.1 1219.6L1397.4 1222.8L1398.7 1215.8L1400.0 1215.0L1401.3 1210.8L1402.6 1221.6L1403.9 1209.2L1405.2 1225.6L1406.5 1232.2L1407.8 1245.9L1409.1 1243.6L1410.4 1242.3L1411.7 1229.1L1413.0 1240.2L1414.3 1223.6L1415.6 1227.1L1416.9 1229.6L1418.2 1239.1L1419.5 1246.4L1420.8 1247.5L1422.1 1245.7L1423.4 1251.3L1424.7 1248.8L1426.0 1244.9L1427.3 1249.0L1428.6 1256.4L1429.9 1258.8L1431.2 1251.1L1432.5 1254.8L1433.8 1257.6L1435.1 1260.5L1436.4 1262.5L1437.7 1261.3L1439.0 1266.5L1440.3 1262.3L1441.6 1266.4L1442.9 1259.2L1444.2 1261.5L1445.5 1257.7L1446.8 1252.9L1448.1 1257.9L1449.4 1262.4L1450.7 1269.0L1452.0 1275.5L1453.3 1272.9L1454.6 1271.5L1455.9 1262.8L1457.2 1266.2L1458.5 1269.4L1459.8 1273.6L1461.1 1285.0L1462.4 1287.5L1463.7 1290.5L1465.0 1300.4L1466.3 1303.7L1467.6 1298.4L1468.9 1294.1L1470.2 1304.8L1471.5 1285.9L1472.8 1285.4L1474.1 1286.2L1475.4 1284.8L1476.7 1275.0L1478.0 1280.1L1479.3 1285.5L1480.6 1271.0L1481.9 1283.6L1483.2 1286.2L1484.5 1294.9L1485.8 1305.4L1487.1 1309.2L1488.4 1308.5L1489.7 1316.3L1491.0 1318.1L1492.3 1317.4L1493.6 1321.9L1494.9 1318.5L1496.2 1317.1L1497.5 1309.8L1498.8 1311.8L1500.1 1313.2L1501.4 1305.6L1502.7 1309.9L1504.0 1313.7L1505.3 1314.6L1506.6 1305.6L1507.9 1329.5L1509.2 1319.9L1510.5 1324.9L1511.8 1330.1L1513.1 1343.5L1514.4 1338.0L1515.7 1337.1L1517.0 1331.0L1518.3 1340.9L1519.6 1339.1L1520.9 1333.9L1522.2 1337.6L1523.5 1343.5L1524.8 1337.4L1526.1 1346.2L1527.4 1341.8L1528.7 1338.4L1530.0 1344.5L1531.3 1350.9L1532.6 1355.8L1533.9 1361.0L1535.2 1374.7L1536.5 1375.7L1537.8 1373.7L1539.1 1368.0L1540.4 1370.0L1541.7 1372.3L1543.0 1374.1L1544.3 1380.0L1545.6 1391.9L1546.9 1393.4L1548.2 1394.7L1549.5 1390.3L1550.8 1394.0L1552.1 1397.8L1553.4 1397.1L1554.7 1399.9L1556.0 1400.9L1557.3 1397.4L1558.6 1397.8L1559.9 1397.2L1561.2 1395.7L1562.5 1411.6L1563.8 1408.5L1565.1 1417.5L1566.4 1420.3L1567.7 1424.3L1569.0 1424.0L1570.3 1424.7L1571.6 1418.2L1572.9 1419.6L1574.2 1423.6L1575.5 1422.7L1576.8 1421.6L1578.1 1430.1L1579.4 1423.6L1580.7 1426.5L1582.0 1428.9L1583.3 1433.8L1584.6 1432.2L1585.9 1444.4L1587.2 1452.0L1588.5 1449.8L1589.8 1454.2L1591.1 1457.0L1592.4 1459.3L1593.7 1443.0L1595.0 1438.1L1596.3 1437.3L1597.6 1439.4L1598.9 1441.1L1600.2 1457.9L1601.5 1461.8L1602.8 1474.2L1604.1 1464.6L1605.4 1471.1L1606.7 1466.9L1608.0 1460.2L1609.3 1461.2L1610.6 1453.6L1611.9 1462.1L1613.2 1476.3L1614.5 1479.8L1615.8 1484.3L1617.1 1482.9L1618.4 1482.5L1619.7 1475.6L1621.0 1469.9L1622.3 1465.4L1623.6 1472.5L1624.9 1471.9L1626.2 1474.4L1627.5 1484.1L1628.8 1481.6L1630.1 1486.8L1631.4 1492.6L1632.7 1495.9L1634.0 1488.6L1635.3 1492.1L1636.6 1495.3L1637.9 1493.1L1639.2 1492.9L1640.5 1507.7L1641.8 1508.8L1643.1 1512.0L1644.4 1511.4L1645.7 1508.3L1647.0 1508.4L1648.3 1514.4L1649.6 1502.9L1650.9 1513.4L1652.2 1506.0L1653.5 1509.2L1654.8 1513.7L1656.1 1512.0L1657.4 1505.7L1658.7 1522.2L1660.0 1515.6L1661.3 1510.4L1662.6 1513.4L1663.9 1511.2L1665.2 1514.1L1666.5 1526.6L1667.8 1524.7L1669.1 1533.2L1670.4 1528.2L1671.7 1530.1L1673.0 1526.0L1674.3 1524.9L1675.6 1511.6L1676.9 1513.4L1678.2 1509.5L1679.5 1511.1L1680.8 1516.5L1682.1 1517.7L1683.4 1515.3L1684.7 1512.2L1686.0 1513.7L1687.3 1522.2L1688.6 1516.0L1689.9 1537.2L1691.2 1541.7L1692.5 1540.2L1693.8 1540.9L1695.1 1544.7L1696.4 1540.5L1697.7 1533.9L1699.0 1527.7L1700.3 1524.2L1701.6 1522.2L1702.9 1529.1L1704.2 1524.6L1705.5 1528.0L1706.8 1530.6L1708.1 1526.6L1709.4 1525.4L1710.7 1519.7L1712.0 1521.0L1713.3 1524.6L1714.6 1521.1L1715.9 1536.9L1717.2 1542.9L1718.5 1546.4L1719.8 1544.5L1721.1 1540.0L1722.4 1540.8L1723.7 1546.5L1725.0 1544.4L1726.3 1545.2L1727.6 1544.0L1728.9 1540.3L1730.2 1544.1L1731.5 1542.6L1732.8 1547.0L1734.1 1560.3L1735.4 1554.0L1736.7 1550.0L1738.0 1550.6L1739.3 1555.1L1740.6 1548.2L1741.9 1545.7L1743.2 1538.7L1744.5 1545.7L1745.8 1544.1L1747.1 1533.0L1748.4 1531.1L1749.7 1526.7L1751.0 1530.9L1752.3 1530.0L1753.6 1536.5L1754.9 1541.3L1756.2 1543.9L1757.5 1551.5L1758.8 1544.6L1760.1 1551.6L1761.4 1552.5L1762.7 1549.2L1764.0 1542.1L1765.3 1542.0L1766.6 1541.2L1767.9 1551.4L1769.2 1543.7L1770.5 1545.6L1771.8 1553.6L1773.1 1538.9L1774.4 1545.5L1775.7 1557.4L1777.0 1555.6L1778.3 1560.6L1779.6 1568.8L1780.9 1553.6L1782.2 1544.8L1783.5 1541.4L1784.8 1537.2L1786.1 1538.2L1787.4 1554.2L1788.7 1554.7L1790.0 1553.5L1791.3 1552.9L1792.6 1566.6L1793.9 1556.9L1795.2 1560.8L1796.5 1558.3L1797.8 1552.5L1799.1 1534.7L1800.4 1535.0L1801.7 1535.1L1803.0 1543.6L1804.3 1542.4L1805.6 1555.7L1806.9 1555.9L1808.2 1554.8L1809.5 1550.8L1810.8 1553.1L1812.1 1554.5L1813.4 1552.7L1814.7 1554.9L1816.0 1563.4L1817.3 1563.3L1818.6 1560.8L1819.9 1554.1L1821.2 1559.1L1822.5 1555.3L1823.8 1558.2L1825.1 1561.0L1826.4 1567.9L1827.7 1564.6L1829.0 1567.5L1830.3 1565.3L1831.6 1561.0L1832.9 1547.7L1834.2 1550.0L1835.5 1545.9L1836.8 1556.8L1838.1 1559.0L1839.4 1570.9L1840.7 1569.4L1842.0 1569.4L1843.3 1558.6L1844.6 1557.9L1845.9 1548.6L1847.2 1549.1L1848.5 1546.6L1849.8 1546.6L1851.1 1547.0L1852.4 1554.8L1853.7 1560.4L1855.0 1571.0L1856.3 1575.8L1857.6 1572.9L1858.9 1573.7L1860.2 1566.3L1861.5 1567.7L1862.8 1572.0L1864.1 1571.6L1865.4 1576.3L1866.7 1582.5L1868.0 1585.0L1869.3 1581.7L1870.6 1584.3L1871.9 1578.9L1873.2 1583.5L1874.5 1567.1L1875.8 1565.7L1877.1 1559.0L1878.4 1565.4L1879.7 1564.7L1881.0 1578.2L1882.3 1575.9L1883.6 1581.9L1884.9 1582.9L1886.2 1576.0L1887.5 1564.8L1888.8 1560.5L1890.1 1560.9L1891.4 1550.7L1892.7 1564.8L1894.0 1565.6L1895.3 1577.2L1896.6 1576.7L1897.9 1581.0L1899.2 1571.8L1900.5 1575.6L1901.8 1571.8L1903.1 1582.6L1904.4 1576.5L1905.7 1573.9L1907.0 1577.2L1908.3 1570.7L1909.6 1570.3L1910.9 1569.0L1912.2 1576.8L1913.5 1575.7L1914.8 1570.6L1916.1 1568.9L1917.4 1573.5L1918.7 1569.1L1920.0 1569.9L1921.3 1569.9L1922.6 1570.8L1923.9 1572.9L1925.2 1579.4L1926.5 1584.5L1927.8 1592.8L1929.1 1591.4L1930.4 1594.3L1931.7 1589.7L1933.0 1587.7L1934.3 1571.2L1935.6 1567.4L1936.9 1562.3L1938.2 1570.5L1939.5 1568.5L1940.8 1573.8L1942.1 1566.0L1943.4 1566.7L1944.7 1569.4L1946.0 1563.0L1947.3 1565.0L1948.6 1570.4L1949.9 1565.9L1951.2 1571.2L1952.5 1569.9L1953.8 1574.0L1955.1 1574.8L1956.4 1582.9L1957.7 1581.2L1959.0 1585.9L1960.3 1581.0L1961.6 1586.6L1962.9 1576.1L1964.2 1577.8L1965.5 1561.9L1966.8 1558.2L1968.1 1555.3L1969.4 1563.5L1970.7 1556.8L1972.0 1570.4L1973.3 1576.3L1974.6 1592.5L1975.9 1593.6L1977.2 1600.1L1978.5 1580.9L1979.8 1587.4L1981.1 1568.3L1982.4 1567.3L1983.7 1572.6L1985.0 1576.8L1986.3 1568.6L1987.6 1578.7L1988.9 1570.4L1990.2 1563.0L1991.5 1570.5L1992.8 1571.8L1994.1 1567.3L1995.4 1557.2L1996.7 1570.0L1998.0 1559.7L1999.3 1576.8L2000.6 1578.1L2001.9 1587.2L2003.2 1590.0L2004.5 1599.2L2005.8 1598.2L2007.1 1590.3L2008.4 1585.0L2009.7 1587.7L2011.0 1580.9L2012.3 1575.2L2013.6 1572.2L2014.9 1569.0L2016.2 1568.3L2017.5 1576.9L2018.8 1585.0L2020.1 1586.5L2021.4 1594.8L2022.7 1589.1L2024.0 1591.8L2025.3 1585.8L2026.6 1581.2L2027.9 1585.2L2029.2 1586.4L2030.5 1593.6L2031.8 1586.0L2033.1 1593.1L2034.4 1599.5L2035.7 1592.0L2037.0 1588.9L2038.3 1587.9L2039.6 1580.7L2040.9 1576.4L2042.2 1578.6L2043.5 1585.3L2044.8 1588.6L2046.1 1591.1L2047.4 1593.7L2048.7 1591.1L2050.0 1589.4L2051.3 1590.9L2052.6 1593.1L2053.9 1595.1L2055.2 1596.2L2056.5 1599.1L2057.8 1594.3L2059.1 1587.1L2060.4 1591.0L2061.7 1588.8L2063.0 1583.2L2064.3 1583.7L2065.6 1591.6L2066.9 1592.8L2068.2 1603.5L2069.5 1597.7L2070.8 1591.2L2072.1 1591.6L2073.4 1580.4L2074.7 1581.7L2076.0 1571.9L2077.3 1580.4L2078.6 1587.2L2079.9 1591.6L2081.2 1583.1L2082.5 1590.8L2083.8 1588.5L2085.1 1589.6L2086.4 1586.2L2087.7 1591.2L2089.0 1587.8L2090.3 1591.5L2091.6 1575.7L2092.9 1573.6L2094.2 1577.7L2095.5 1572.5L2096.8 1581.4L2098.1 1587.6L2099.4 1584.0L2100.7 1581.2L2102.0 1585.1L2103.3 1587.7L2104.6 1584.7L2105.9 1588.3L2107.2 1594.0L2108.5 1595.7L2109.8 1596.2L2111.1 1603.3L2112.4 1598.6L2113.7 1594.3L2115.0 1590.0L2116.3 1587.9L2117.6 1582.9L2118.9 1599.3L2120.2 1600.8L2121.5 1599.5L2122.8 1591.7L2124.1 1597.6L2125.4 1597.5L2126.7 1598.2L2128.0 1601.5L2129.3 1600.6L2130.6 1596.2L2131.9 1597.9L2133.2 1590.9L2134.5 1588.6L2135.8 1591.2L2137.1 1585.7L2138.4 1584.0L2139.7 1591.4L2141.0 1592.7L2142.3 1590.1L2143.6 1586.4L2144.9 1581.6L2146.2 1580.8L2147.5 1584.9L2148.8 1581.0L2150.1 1584.9L2151.4 1581.8L2152.7 1579.9L2154.0 1588.4L2155.3 1594.9L2156.6 1576.3L2157.9 1588.0L2159.2 1597.1L2160.5 1592.5L2161.8 1594.5L2163.1 1595.6L2164.4 1595.0L2165.7 1588.6L2167.0 1589.8L2168.3 1580.9L2169.6 1583.6L2170.9 1585.8L2172.2 1581.9L2173.5 1577.8L2174.8 1579.3L2176.1 1588.5L2177.4 1581.4L2178.7 1587.7L2180.0 1596.4L2181.3 1596.2L2182.6 1598.7L2183.9 1596.7L2185.2 1595.2L2186.5 1583.0L2187.8 1586.7"/>
<path stroke="#f00" stroke-dasharray="32 42" d="M457.5 1608.1L458.8 1608.2L460.1 1608.9L461.4 1614.5L462.7 1614.3L464.0 1613.8L465.3 1614.6L466.6 1613.9L467.9 1614.4L469.2 1611.3L470.5 1611.2L471.8 1611.8L473.1 1609.6L474.4 1604.6L475.7 1603.5L477.0 1599.6L478.3 1597.9L479.6 1601.3L480.9 1603.4L482.2 1599.8L483.5 1605.5L484.8 1613.8L486.1 1605.1L487.4 1606.7L488.7 1611.2L490.0 1605.7L491.3 1600.2L492.6 1604.9L493.9 1608.1L495.2 1606.2L496.5 1604.2L497.8 1607.0L499.1 1612.1L500.4 1616.8L501.7 1614.2L503.0 1614.6L504.3 1616.8L505.6 1610.9L506.9 1609.4L508.2 1613.0L509.5 1614.1L510.8 1605.8L512.1 1612.7L513.4 1618.7L514.7 1619.1L516.0 1610.9L517.3 1629.2L518.6 1614.3L519.9 1619.6L521.2 1623.4L522.5 1617.2L523.8 1614.9L525.1 1614.3L526.4 1620.4L527.7 1619.1L529.0 1613.2L530.3 1625.9L531.6 1619.4L532.9 1620.9L534.2 1607.2L535.5 1613.6L536.8 1613.0L538.1 1616.3L539.4 1614.7L540.7 1611.3L542.0 1613.5L543.3 1610.3L544.6 1604.4L545.9 1605.0L547.2 1605.2L548.5 1612.5L549.8 1612.8L551.1 1622.3L552.4 1620.9L553.7 1617.0L555.0 1620.9L556.3 1612.9L557.6 1614.2L558.9 1619.2L560.2 1613.9L561.5 1612.1L562.8 1607.7L564.1 1612.2L565.4 1614.1L566.7 1611.1L568.0 1615.8L569.3 1615.6L570.6 1616.7L571.9 1616.7L573.2 1623.4L574.5 1624.1L575.8 1620.8L577.1 1612.7L578.4 1618.2L579.7 1608.6L581.0 1606.4L582.3 1602.9L583.6 1603.8L584.9 1604.2L586.2 1611.0L587.5 1614.5L588.8 1610.3L590.1 1616.4L591.4 1614.6L592.7 1611.9L594.0 1611.3L595.3 1617.4L596.6 1619.1L597.9 1610.3L599.2 1612.1L600.5 1612.4L601.8 1612.3L603.1 1614.2L604.4 1612.4L605.7 1611.8L607.0 1616.9L608.3 1612.0L609.6 1617.7L610.9 1613.9L612.2 1600.9L613.5 1611.6L614.8 1609.5L616.1 1598.8L617.4 1604.3L618.7 1603.9L620.0 1609.4L621.3 1602.2L622.6 1611.6L623.9 1612.7L625.2 1612.6L626.5 1616.3L627.8 1619.2L629.1 1622.9L630.4 1613.9L631.7 1619.8L633.0 1608.5L634.3 1609.3L635.6 1614.8L636.9 1609.4L638.2 1611.6L639.5 1610.9L640.8 1602.2L642.1 1608.6L643.4 1607.8L644.7 1612.4L646.0 1617.2L647.3 1618.4L648.6 1611.1L649.9 1609.2L651.2 1609.8L652.5 1607.8L653.8 1611.7L655.1 1613.2L656.4 1607.8L657.7 1609.7L659.0 1608.5L660.3 1604.8L661.6 1609.0L662.9 1614.4L664.2 1608.0L665.5 1609.1L666.8 1613.2L668.1 1604.8L669.4 1603.6L670.7 1604.5L672.0 1612.7L673.3 1609.4L674.6 1618.3L675.9 1612.5L677.2 1613.9L678.5 1606.4L679.8 1607.6L681.1 1615.0L682.4 1604.9L683.7 1612.2L685.0 1616.3L686.3 1614.9L687.6 1611.0L688.9 1615.3L690.2 1608.6L691.5 1611.1L692.8 1608.9L694.1 1613.7L695.4 1614.0L696.7 1617.0L698.0 1616.6L699.3 1613.8L700.6 1608.2L701.9 1618.0L703.2 1614.4L704.5 1616.1L705.8 1618.7L707.1 1619.1L708.4 1620.7L709.7 1619.5L711.0 1616.4L712.3 1617.5L713.6 1623.4L714.9 1609.6L716.2 1620.5L717.5 1619.8L718.8 1625.5L720.1 1624.3L721.4 1611.8L722.7 1615.2L724.0 1611.1L725.3 1602.8L726.6 1607.3L727.9 1608.8L729.2 1599.7L730.5 1608.3L731.8 1601.9L733.1 1603.8L734.4 1602.4L735.7 1610.8L737.0 1604.1L738.3 1596.9L739.6 1601.8L740.9 1594.6L742.2 1599.8L743.5 1608.8L744.8 1603.2L746.1 1603.3L747.4 1612.5L748.7 1605.0L750.0 1606.6L751.3 1602.8L752.6 1600.1L753.9 1604.9L755.2 1611.8L756.5 1618.6L757.8 1611.9L759.1 1616.3L760.4 1614.7L761.7 1612.5L763.0 1610.1L764.3 1607.4L765.6 1603.9L766.9 1605.6L768.2 1609.1L769.5 1611.8L770.8 1613.9L772.1 1610.5L773.4 1606.7L774.7 1600.1L776.0 1596.7L777.3 1590.7L778.6 1585.9L779.9 1597.4L781.2 1601.5L782.5 1602.0L783.8 1606.4L785.1 1616.3L786.4 1609.3L787.7 1606.5L789.0 1612.3L790.3 1613.9L791.6 1609.6L792.9 1613.1L794.2 1612.8L795.5 1605.3L796.8 1611.3L798.1 1607.0L799.4 1607.9L800.7 1600.7L802.0 1606.4L803.3 1605.8L804.6 1604.4L805.9 1602.7L807.2 1614.5L808.5 1608.6L809.8 1613.3L811.1 1621.8L812.4 1604.8L813.7 1602.0L815.0 1607.2L816.3 1601.4L817.6 1597.6L818.9 1605.2L820.2 1606.1L821.5 1600.7L822.8 1604.9L824.1 1607.2L825.4 1611.7L826.7 1611.2L828.0 1606.9L829.3 1604.1L830.6 1605.0L831.9 1606.1L833.2 1610.7L834.5 1610.4L835.8 1617.8L837.1 1618.1L838.4 1611.2L839.7 1605.5L841.0 1605.3L842.3 1606.7L843.6 1610.6L844.9 1612.6L846.2 1607.0L847.5 1606.6L848.8 1610.3L850.1 1605.7L851.4 1607.8L852.7 1605.1L854.0 1604.2L855.3 1600.4L856.6 1608.2L857.9 1600.1L859.2 1600.0L860.5 1602.2L861.8 1603.6L863.1 1598.8L864.4 1597.9L865.7 1600.9L867.0 1599.0L868.3 1599.6L869.6 1602.4L870.9 1607.9L872.2 1603.9L873.5 1603.1L874.8 1605.8L876.1 1603.6L877.4 1591.5L878.7 1601.4L880.0 1605.1L881.3 1603.6L882.6 1603.4L883.9 1603.2L885.2 1604.3L886.5 1590.7L887.8 1589.0L889.1 1596.2L890.4 1596.0L891.7 1596.6L893.0 1603.6L894.3 1606.6L895.6 1606.4L896.9 1617.4L898.2 1607.8L899.5 1608.5L900.8 1602.0L902.1 1597.0L903.4 1598.6L904.7 1595.8L906.0 1593.9L907.3 1596.3L908.6 1596.8L909.9 1593.4L911.2 1589.4L912.5 1594.0L913.8 1591.2L915.1 1598.3L916.4 1592.1L917.7 1595.0L919.0 1594.5L920.3 1592.8L921.6 1598.2L922.9 1600.6L924.2 1602.5L925.5 1599.1L926.8 1598.4L928.1 1583.0L929.4 1577.4L930.7 1578.9L932.0 1589.0L933.3 1580.5L934.6 1589.2L935.9 1587.3L937.2 1581.6L938.5 1583.8L939.8 1592.1L941.1 1595.4L942.4 1595.5L943.7 1591.1L945.0 1591.3L946.3 1583.4L947.6 1574.9L948.9 1580.5L950.2 1576.1L951.5 1578.2L952.8 1578.1L954.1 1585.3L955.4 1585.1L956.7 1583.7L958.0 1584.0L959.3 1577.8L960.6 1572.2L961.9 1562.3L963.2 1560.7L964.5 1564.5L965.8 1560.5L967.1 1563.5L968.4 1563.3L969.7 1569.4L971.0 1560.1L972.3 1564.3L973.6 1556.9L974.9 1558.2L976.2 1563.7L977.5 1568.7L978.8 1558.9L980.1 1554.7L981.4 1565.0L982.7 1554.4L984.0 1547.2L985.3 1555.7L986.6 1557.9L987.9 1564.6L989.2 1562.5L990.5 1560.6L991.8 1549.2L993.1 1562.3L994.4 1556.4L995.7 1561.4L997.0 1560.4L998.3 1558.6L999.6 1545.9L1000.9 1541.4L1002.2 1538.5L1003.5 1542.1L1004.8 1540.0L1006.1 1553.6L1007.4 1545.0L1008.7 1537.5L1010.0 1543.1L1011.3 1541.3L1012.6 1534.2L1013.9 1529.8L1015.2 1533.9L1016.5 1534.0L1017.8 1524.3L1019.1 1524.5L1020.4 1534.2L1021.7 1527.1L1023.0 1526.7L1024.3 1530.0L1025.6 1525.2L1026.9 1527.2L1028.2 1529.4L1029.5 1536.5L1030.8 1534.2L1032.1 1532.2L1033.4 1533.0L1034.7 1532.7L1036.0 1527.7L1037.3 1530.6L1038.6 1526.5L1039.9 1525.3L1041.2 1528.3L1042.5 1519.9L1043.8 1517.0L1045.1 1525.7L1046.4 1517.4L1047.7 1521.3L1049.0 1512.0L1050.3 1513.5L1051.6 1506.0L1052.9 1504.1L1054.2 1505.0L1055.5 1507.1L1056.8 1506.6L1058.1 1500.7L1059.4 1503.8L1060.7 1503.7L1062.0 1498.3L1063.3 1496.2L1064.6 1505.4L1065.9 1502.1L1067.2 1505.5L1068.5 1504.7L1069.8 1506.4L1071.1 1498.9L1072.4 1493.2L1073.7 1497.1L1075.0 1498.4L1076.3 1497.0L1077.6 1501.3L1078.9 1513.5L1080.2 1502.0L1081.5 1508.6L1082.8 1508.6L1084.1 1497.3L1085.4 1489.1L1086.7 1487.2L1088.0 1477.1L1089.3 1488.9L1090.6 1490.3L1091.9 1483.3L1093.2 1485.7L1094.5 1489.2L1095.8 1474.4L1097.1 1476.3L1098.4 1480.4L1099.7 1477.6L1101.0 1471.7L1102.3 1480.0L1103.6 1471.8L1104.9 1472.5L1106.2 1468.7L1107.5 1479.3L1108.8 1475.7L1110.1 1475.7L1111.4 1469.2L1112.7 1461.9L1114.0 1461.5L1115.3 1458.0L1116.6 1462.3L1117.9 1466.5L1119.2 1466.3L1120.5 1466.4L1121.8 1465.4L1123.1 1469.4L1124.4 1477.2L1125.7 1471.3L1127.0 1471.9L1128.3 1460.3L1129.6 1452.0L1130.9 1449.8L1132.2 1446.9L1133.5 1447.3L1134.8 1447.4L1136.1 1449.2L1137.4 1447.0L1138.7 1448.6L1140.0 1437.0L1141.3 1440.5L1142.6 1430.8L1143.9 1433.4L1145.2 1431.5L1146.5 1427.5L1147.8 1432.6L1149.1 1421.4L1150.4 1413.5L1151.7 1411.8L1153.0 1408.0L1154.3 1412.5L1155.6 1411.3L1156.9 1413.0L1158.2 1405.5L1159.5 1413.9L1160.8 1408.6L1162.1 1408.0L1163.4 1398.0L1164.7 1401.6L1166.0 1395.6L1167.3 1395.3L1168.6 1397.7L1169.9 1396.9L1171.2 1387.5L1172.5 1400.4L1173.8 1390.6L1175.1 1387.5L1176.4 1384.8L1177.7 1393.1L1179.0 1387.3L1180.3 1391.5L1181.6 1387.6L1182.9 1382.2L1184.2 1384.2L1185.5 1378.7L1186.8 1373.5L1188.1 1374.7L1189.4 1374.9L1190.7 1378.0L1192.0 1373.3L1193.3 1370.0L1194.6 1369.0L1195.9 1362.5L1197.2 1341.7L1198.5 1340.7L1199.8 1339.4L1201.1 1325.8L1202.4 1322.2L1203.7 1334.5L1205.0 1335.4L1206.3 1338.6L1207.6 1346.8L1208.9 1352.5L1210.2 1349.7L1211.5 1342.7L1212.8 1332.3L1214.1 1320.0L1215.4 1312.2L1216.7 1314.5L1218.0 1309.7L1219.3 1322.6L1220.6 1312.0L1221.9 1311.5L1223.2 1306.2L1224.5 1313.2L1225.8 1305.5L1227.1 1309.1L1228.4 1308.2L1229.7 1305.1L1231.0 1289.5L1232.3 1277.1L1233.6 1272.9L1234.9 1275.8L1236.2 1272.6L1237.5 1266.6L1238.8 1269.3L1240.1 1262.5L1241.4 1255.8L1242.7 1245.3L1244.0 1251.9L1245.3 1246.6L1246.6 1253.7L1247.9 1252.0L1249.2 1262.6L1250.5 1261.8L1251.8 1245.0L1253.1 1238.3L1254.4 1246.0L1255.7 1245.6L1257.0 1247.2L1258.3 1264.5L1259.6 1262.9L1260.9 1256.3L1262.2 1260.3L1263.5 1246.9L1264.8 1238.2L1266.1 1241.9L1267.4 1248.2L1268.7 1235.7L1270.0 1236.8L1271.3 1242.0L1272.6 1241.8L1273.9 1224.9L1275.2 1229.6L1276.5 1224.7L1277.8 1221.4L1279.1 1209.4L1280.4 1215.6L1281.7 1208.3L1283.0 1204.1L1284.3 1204.4L1285.6 1201.0L1286.9 1193.9L1288.2 1181.7L1289.5 1192.6L1290.8 1194.7L1292.1 1194.8L1293.4 1191.7L1294.7 1209.0L1296.0 1198.4L1297.3 1195.1L1298.6 1189.6L1299.9 1188.0L1301.2 1181.9L1302.5 1181.6L1303.8 1176.8L1305.1 1176.0L1306.4 1175.4L1307.7 1170.2L1309.0 1174.6L1310.3 1174.2L1311.6 1175.3L1312.9 1169.7L1314.2 1168.5L1315.5 1183.8L1316.8 1190.1L1318.1 1189.0L1319.4 1192.3L1320.7 1194.4L1322.0 1183.9L1323.3 1167.2L1324.6 1164.8L1325.9 1169.5L1327.2 1153.8L1328.5 1145.7L1329.8 1140.5L1331.1 1144.0L1332.4 1141.1L1333.7 1137.9L1335.0 1150.3L1336.3 1161.8L1337.6 1153.3L1338.9 1160.3L1340.2 1152.3L1341.5 1155.1L1342.8 1145.7L1344.1 1150.0L1345.4 1141.5L1346.7 1143.5L1348.0 1148.3L1349.3 1153.7L1350.6 1147.5L1351.9 1142.0L1353.2 1135.5L1354.5 1136.5L1355.8 1150.5L1357.1 1153.0L1358.4 1155.5L1359.7 1170.7L1361.0 1184.0L1362.3 1164.4L1363.6 1157.7L1364.9 1169.1L1366.2 1165.9L1367.5 1155.1L1368.8 1162.5L1370.1 1172.6L1371.4 1173.9L1372.7 1181.4L1374.0 1176.9L1375.3 1167.6L1376.6 1164.0L1377.9 1152.2L1379.2 1152.8L1380.5 1156.3L1381.8 1162.7L1383.1 1152.2L1384.4 1161.1L1385.7 1153.9L1387.0 1149.4L1388.3 1148.1L1389.6 1155.3L1390.9 1145.4L1392.2 1151.9L1393.5 1160.3L1394.8 1162.1L1396.1 1175.9L1397.4 1185.1L1398.7 1173.9L1400.0 1171.4L1401.3 1163.3L1402.6 1146.6L1403.9 1149.5L1405.2 1148.5L1406.5 1154.4L1407.8 1152.7L1409.1 1160.7L1410.4 1156.0L1411.7 1169.9L1413.0 1168.6L1414.3 1172.5L1415.6 1168.0L1416.9 1160.4L1418.2 1171.1L1419.5 1172.9L1420.8 1193.5L1422.1 1201.2L1423.4 1211.1L1424.7 1206.8L1426.0 1211.5L1427.3 1204.4L1428.6 1191.7L1429.9 1189.5L1431.2 1197.7L1432.5 1187.7L1433.8 1192.9L1435.1 1182.4L1436.4 1185.9L1437.7 1192.8L1439.0 1204.3L1440.3 1197.3L1441.6 1202.3L1442.9 1214.1L1444.2 1199.0L1445.5 1204.9L1446.8 1205.9L1448.1 1206.7L1449.4 1206.8L1450.7 1223.4L1452.0 1218.2L1453.3 1218.5L1454.6 1214.8L1455.9 1220.5L1457.2 1206.3L1458.5 1207.6L1459.8 1203.7L1461.1 1216.2L1462.4 1206.7L1463.7 1230.6L1465.0 1227.2L1466.3 1231.8L1467.6 1227.0L1468.9 1223.8L1470.2 1223.0L1471.5 1228.1L1472.8 1215.1L1474.1 1218.0L1475.4 1211.4L1476.7 1209.4L1478.0 1212.1L1479.3 1230.7L1480.6 1239.7L1481.9 1245.6L1483.2 1247.1L1484.5 1242.1L1485.8 1228.7L1487.1 1224.7L1488.4 1225.2L1489.7 1237.5L1491.0 1237.1L1492.3 1238.4L1493.6 1246.7L1494.9 1247.2L1496.2 1253.9L1497.5 1268.3L1498.8 1268.7L1500.1 1270.7L1501.4 1279.4L1502.7 1275.9L1504.0 1279.7L1505.3 1276.9L1506.6 1271.0L1507.9 1265.3L1509.2 1266.7L1510.5 1260.9L1511.8 1277.5L1513.1 1283.3L1514.4 1274.2L1515.7 1271.6L1517.0 1278.2L1518.3 1271.8L1519.6 1269.3L1520.9 1279.4L1522.2 1283.0L1523.5 1289.2L1524.8 1287.1L1526.1 1295.0L1527.4 1290.9L1528.7 1315.2L1530.0 1306.0L1531.3 1309.0L1532.6 1305.5L1533.9 1304.3L1535.2 1293.7L1536.5 1297.4L1537.8 1304.5L1539.1 1301.0L1540.4 1303.1L1541.7 1305.3L1543.0 1299.1L1544.3 1294.0L1545.6 1298.6L1546.9 1304.8L1548.2 1309.8L1549.5 1315.0L1550.8 1321.0L1552.1 1325.4L1553.4 1332.4L1554.7 1333.6L1556.0 1342.5L1557.3 1354.0L1558.6 1347.2L1559.9 1339.8L1561.2 1335.7L1562.5 1348.6L1563.8 1348.7L1565.1 1364.8L1566.4 1366.4L1567.7 1378.4L1569.0 1370.6L1570.3 1373.4L1571.6 1384.9L1572.9 1387.2L1574.2 1384.5L1575.5 1387.9L1576.8 1396.6L1578.1 1388.6L1579.4 1385.4L1580.7 1381.9L1582.0 1383.2L1583.3 1389.0L1584.6 1392.1L1585.9 1392.4L1587.2 1408.1L1588.5 1412.9L1589.8 1407.1L1591.1 1414.6L1592.4 1420.2L1593.7 1423.3L1595.0 1430.3L1596.3 1427.8L1597.6 1439.9L1598.9 1430.2L1600.2 1426.9L1601.5 1432.1L1602.8 1438.7L1604.1 1430.5L1605.4 1438.4L1606.7 1440.7L1608.0 1434.6L1609.3 1442.6L1610.6 1444.2L1611.9 1441.8L1613.2 1448.5L1614.5 1440.2L1615.8 1445.3L1617.1 1452.5L1618.4 1451.1L1619.7 1454.4L1621.0 1451.4L1622.3 1460.3L1623.6 1463.8L1624.9 1481.8L1626.2 1482.7L1627.5 1489.1L1628.8 1487.0L1630.1 1487.1L1631.4 1478.9L1632.7 1476.7L1634.0 1480.0L1635.3 1485.9L1636.6 1494.4L1637.9 1486.1L1639.2 1486.9L1640.5 1486.0L1641.8 1493.9L1643.1 1484.9L1644.4 1493.2L1645.7 1494.7L1647.0 1483.5L1648.3 1486.6L1649.6 1490.4L1650.9 1492.2L1652.2 1488.6L1653.5 1506.9L1654.8 1498.8L1656.1 1493.7L1657.4 1495.6L1658.7 1499.8L1660.0 1489.9L1661.3 1495.2L1662.6 1498.0L1663.9 1501.8L1665.2 1504.3L1666.5 1506.3L1667.8 1499.7L1669.1 1497.1L1670.4 1506.3L1671.7 1507.8L1673.0 1503.9L1674.3 1511.0L1675.6 1518.5L1676.9 1512.6L1678.2 1508.5L1679.5 1514.5L1680.8 1510.3L1682.1 1510.1L1683.4 1510.7L1684.7 1509.6L1686.0 1509.6L1687.3 1509.9L1688.6 1514.9L1689.9 1516.8L1691.2 1523.5L1692.5 1530.0L1693.8 1535.8L1695.1 1532.7L1696.4 1533.0L1697.7 1533.3L1699.0 1530.1L1700.3 1533.4L1701.6 1531.9L1702.9 1531.9L1704.2 1524.7L1705.5 1525.1L1706.8 1528.5L1708.1 1524.8L1709.4 1527.7L1710.7 1536.7L1712.0 1533.1L1713.3 1535.4L1714.6 1533.4L1715.9 1524.8L1717.2 1527.0L1718.5 1520.7L1719.8 1527.1L1721.1 1523.2L1722.4 1528.0L1723.7 1526.0L1725.0 1518.7L1726.3 1522.5L1727.6 1513.2L1728.9 1522.1L1730.2 1525.2L1731.5 1529.9L1732.8 1531.2L1734.1 1541.0L1735.4 1541.6L1736.7 1538.9L1738.0 1537.7L1739.3 1541.2L1740.6 1542.4L1741.9 1538.7L1743.2 1541.3L1744.5 1536.9L1745.8 1531.4L1747.1 1535.7L1748.4 1537.2L1749.7 1540.5L1751.0 1536.3L1752.3 1538.4L1753.6 1536.3L1754.9 1542.9L1756.2 1543.4L1757.5 1547.7L1758.8 1557.3L1760.1 1558.6L1761.4 1556.6L1762.7 1546.6L1764.0 1554.3L1765.3 1543.9L1766.6 1541.6L1767.9 1541.5L1769.2 1533.9L1770.5 1532.4L1771.8 1529.9L1773.1 1531.4L1774.4 1528.8L1775.7 1530.5L1777.0 1530.4L1778.3 1542.0L1779.6 1533.7L1780.9 1537.0L1782.2 1537.0L1783.5 1536.0L1784.8 1527.4L1786.1 1534.0L1787.4 1536.1L1788.7 1535.5L1790.0 1545.6L1791.3 1551.3L1792.6 1548.5L1793.9 1551.3L1795.2 1551.4L1796.5 1561.0L1797.8 1562.2L1799.1 1566.1L1800.4 1557.0L1801.7 1559.0L1803.0 1550.5L1804.3 1560.7L1805.6 1559.7L1806.9 1567.5L1808.2 1554.5L1809.5 1558.3L1810.8 1557.8L1812.1 1558.1L1813.4 1549.7L1814.7 1557.5L1816.0 1552.0L1817.3 1553.3L1818.6 1561.0L1819.9 1566.2L1821.2 1564.4L1822.5 1565.6L1823.8 1567.5L1825.1 1560.6L1826.4 1556.2L1827.7 1556.1L1829.0 1559.2L1830.3 1569.8L1831.6 1560.6L1832.9 1564.6L1834.2 1561.5L1835.5 1551.4L1836.8 1543.8L1838.1 1548.8L1839.4 1549.9L1840.7 1555.7L1842.0 1569.1L1843.3 1577.5L1844.6 1573.5L1845.9 1576.3L1847.2 1580.6L1848.5 1570.0L1849.8 1565.5L1851.1 1570.6L1852.4 1561.7L1853.7 1561.6L1855.0 1555.1L1856.3 1558.1L1857.6 1558.2L1858.9 1561.1L1860.2 1555.8L1861.5 1567.7L1862.8 1575.6L1864.1 1572.9L1865.4 1568.7L1866.7 1568.3L1868.0 1557.7L1869.3 1565.9L1870.6 1560.9L1871.9 1570.2L1873.2 1564.0L1874.5 1567.4L1875.8 1569.6L1877.1 1567.9L1878.4 1575.2L1879.7 1585.7L1881.0 1575.4L1882.3 1578.2L1883.6 1590.8L1884.9 1590.1L1886.2 1580.4L1887.5 1583.2L1888.8 1583.1L1890.1 1574.4L1891.4 1572.0L1892.7 1572.3L1894.0 1568.7L1895.3 1570.2L1896.6 1567.1L1897.9 1569.2L1899.2 1564.0L1900.5 1562.4L1901.8 1563.7L1903.1 1572.5L1904.4 1570.8L1905.7 1580.3L1907.0 1581.1L1908.3 1573.4L1909.6 1577.6L1910.9 1579.1L1912.2 1572.9L1913.5 1581.1L1914.8 1582.3L1916.1 1573.1L1917.4 1575.2L1918.7 1575.1L1920.0 1571.6L1921.3 1570.8L1922.6 1572.4L1923.9 1572.0L1925.2 1566.6L1926.5 1564.2L1927.8 1562.1L1929.1 1555.1L1930.4 1561.9L1931.7 1575.2L1933.0 1571.8L1934.3 1576.9L1935.6 1576.6L1936.9 1577.4L1938.2 1576.1L1939.5 1585.0L1940.8 1593.3L1942.1 1595.9L1943.4 1592.9L1944.7 1594.3L1946.0 1593.1L1947.3 1585.7L1948.6 1575.6L1949.9 1579.6L1951.2 1574.1L1952.5 1571.4L1953.8 1573.3L1955.1 1585.0L1956.4 1583.7L1957.7 1586.1L1959.0 1584.4L1960.3 1586.9L1961.6 1581.1L1962.9 1585.3L1964.2 1580.0L1965.5 1570.3L1966.8 1575.2L1968.1 1570.7L1969.4 1569.1L1970.7 1571.2L1972.0 1573.4L1973.3 1584.2L1974.6 1580.2L1975.9 1573.1L1977.2 1581.1L1978.5 1574.6L1979.8 1577.3L1981.1 1573.2L1982.4 1565.6L1983.7 1571.6L1985.0 1576.9L1986.3 1579.3L1987.6 1567.9L1988.9 1581.2L1990.2 1585.8L1991.5 1575.9L1992.8 1579.7L1994.1 1577.4L1995.4 1582.9L1996.7 1576.6L1998.0 1576.2L1999.3 1587.2L2000.6 1589.1L2001.9 1587.4L2003.2 1595.4L2004.5 1595.2L2005.8 1593.6L2007.1 1605.2L2008.4 1600.3L2009.7 1596.6L2011.0 1598.3L2012.3 1586.3L2013.6 1583.6L2014.9 1585.0L2016.2 1584.6L2017.5 1578.9L2018.8 1583.2L2020.1 1578.6L2021.4 1585.4L2022.7 1589.8L2024.0 1590.4L2025.3 1596.0L2026.6 1590.7L2027.9 1594.6L2029.2 1589.5L2030.5 1590.4L2031.8 1592.6L2033.1 1598.8L2034.4 1591.0L2035.7 1593.1L2037.0 1585.1L2038.3 1574.8L2039.6 1583.3L2040.9 1587.8L2042.2 1582.5L2043.5 1593.2L2044.8 1596.6L2046.1 1591.8L2047.4 1590.3L2048.7 1591.5L2050.0 1591.3L2051.3 1590.3L2052.6 1599.1L2053.9 1604.5L2055.2 1604.4L2056.5 1612.4L2057.8 1608.2L2059.1 1601.5L2060.4 1598.9L2061.7 1594.9L2063.0 1595.4L2064.3 1590.5L2065.6 1590.2L2066.9 1594.4L2068.2 1593.2L2069.5 1596.5L2070.8 1587.6L2072.1 1601.7L2073.4 1606.9L2074.7 1603.7L2076.0 1595.2L2077.3 1594.5L2078.6 1586.1L2079.9 1582.7L2081.2 1578.0L2082.5 1589.5L2083.8 1593.8L2085.1 1590.2L2086.4 1594.4L2087.7 1597.0L2089.0 1588.7L2090.3 1589.2L2091.6 1597.0L2092.9 1587.1L2094.2 1587.7L2095.5 1591.2L2096.8 1595.5L2098.1 1586.3L2099.4 1595.2L2100.7 1592.3L2102.0 1594.8L2103.3 1592.5L2104.6 1602.5L2105.9 1599.6L2107.2 1607.2L2108.5 1602.5L2109.8 1601.2L2111.1 1600.9L2112.4 1605.9L2113.7 1603.7L2115.0 1602.4L2116.3 1603.8L2117.6 1599.6L2118.9 1600.5L2120.2 1593.2L2121.5 1599.9L2122.8 1602.2L2124.1 1604.4L2125.4 1610.8L2126.7 1609.3L2128.0 1600.1L2129.3 1597.8L2130.6 1586.1L2131.9 1590.0L2133.2 1588.6L2134.5 1596.0L2135.8 1603.2L2137.1 1606.3L2138.4 1604.0L2139.7 1610.8L2141.0 1607.5L2142.3 1610.6L2143.6 1602.6L2144.9 1594.6L2146.2 1599.4L2147.5 1600.4L2148.8 1593.9L2150.1 1605.1L2151.4 1598.3L2152.7 1600.2L2154.0 1597.9L2155.3 1606.0L2156.6 1603.7L2157.9 1604.5L2159.2 1601.4L2160.5 1596.7L2161.8 1606.1L2163.1 1604.9L2164.4 1599.8L2165.7 1594.2L2167.0 1596.5L2168.3 1597.0L2169.6 1603.3L2170.9 1609.0L2172.2 1607.0L2173.5 1610.1L2174.8 1612.7L2176.1 1610.8L2177.4 1610.3L2178.7 1604.9L2180.0 1608.0L2181.3 1614.9L2182.6 1609.9L2183.9 1615.1L2185.2 1623.8L2186.5 1619.0L2187.8 1614.6"/>
</g>
<g font-family="'Liberation Sans', Arial, sans-serif" font-size="66.67" fill="#000" stroke="#000" stroke-width="0.6">
<text x="317" y="1639.7" text-anchor="end">0</text>
<text x="317" y="1382.8" text-anchor="end">1000</text>
<text x="317" y="1125.9" text-anchor="end">2000</text>
<text x="317" y="869.0" text-anchor="end">3000</text>
<text x="317" y="612.0" text-anchor="end">4000</text>
<text x="317" y="355.1" text-anchor="end">5000</text>
<text x="317" y="98.2" text-anchor="end">6000</text>
<text x="367.0" y="1722" text-anchor="middle">400</text>
<text x="687.1" y="1722" text-anchor="middle">500</text>
<text x="1007.2" y="1722" text-anchor="middle">600</text>
<text x="1327.2" y="1722" text-anchor="middle">700</text>
<text x="1647.3" y="1722" text-anchor="middle">800</text>
<text x="1967.4" y="1722" text-anchor="middle">900</text>
<text x="2287.5" y="1722" text-anchor="middle">1000</text>
</g>
<g font-family="'Liberation Sans', Arial, sans-serif" font-size="80.5" fill="#000" stroke="#000" stroke-width="0.6">
<text id="xt" x="1327.5" y="1845" text-anchor="middle">Wavelength (nm)</text>
<text id="yt" transform="translate(80.4 796) rotate(-90)" text-anchor="middle" letter-spacing="0.65">Intensity (a.u)</text>
</g>
<rect x="1623.5" y="81.5" width="697" height="285" fill="#fff" stroke="#000" stroke-width="3" shape-rendering="crispEdges"/>
<g fill="none" stroke-width="8" stroke-linecap="round" shape-rendering="crispEdges">
<path stroke="#000" d="M1632 126H1776"/>
<path stroke="#f00" stroke-dasharray="32 42" d="M1632 218H1776"/>
<path stroke="#00f" stroke-dasharray="40 24 6 24" d="M1632 310H1776"/>
</g>
<g font-family="'Liberation Sans', Arial, sans-serif" font-size="64" fill="#000" stroke="#000" stroke-width="0.6">
<text x="1792.5" y="148">CuFe<tspan font-size="44.5" dy="16.7">2</tspan><tspan dy="-16.7" dx="-0.9">O</tspan><tspan font-size="44.5" dy="16.7">4</tspan></text>
<text x="1792.5" y="240">ZnFe<tspan font-size="44.5" dy="16.7">2</tspan><tspan dy="-16.7" dx="-0.9">O</tspan><tspan font-size="44.5" dy="16.7">4</tspan></text>
<text x="1792.5" y="332">CuFe<tspan font-size="44.5" dy="16.7">2</tspan><tspan dy="-16.7" dx="-0.9">O</tspan><tspan font-size="44.5" dy="16.7">4</tspan><tspan dy="-16.7" dx="-0.9">/</tspan>ZnFe<tspan font-size="44.5" dy="16.7">2</tspan><tspan dy="-16.7" dx="-0.9">O</tspan><tspan font-size="44.5" dy="16.7">4</tspan></text>
</g>
</svg>
</body>
</html>
